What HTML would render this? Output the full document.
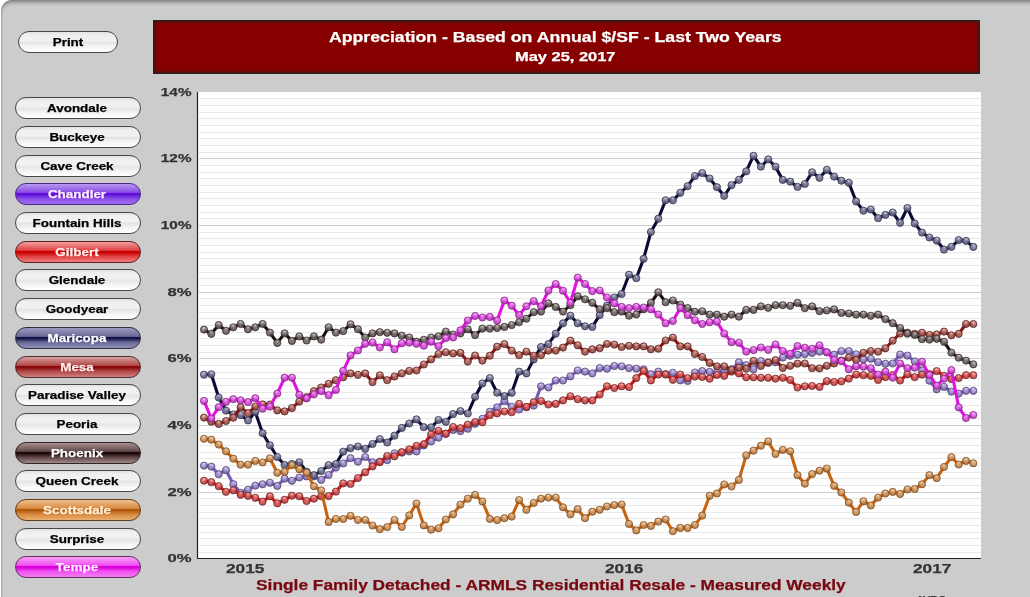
<!DOCTYPE html><html><head><meta charset="utf-8"><style>
html,body{margin:0;padding:0;width:1030px;height:597px;overflow:hidden;background:#fff;}
body{position:relative;font-family:"Liberation Sans",sans-serif;}
.panel{position:absolute;left:1px;top:0;width:1040px;height:620px;background:#cccccc;border-top-left-radius:11px;
 box-shadow:inset 0 4px 4px -2px rgba(0,0,0,.42), inset 2px 0 2px -1px rgba(0,0,0,.14);}
.btn{position:absolute;box-sizing:border-box;border:1.5px solid #555;border-radius:11px;font-weight:bold;font-size:12.5px;
 text-align:center;line-height:20px;white-space:nowrap;}
.title{position:absolute;left:153px;top:20px;width:827px;height:54px;box-sizing:border-box;background:#860000;border:1px solid #222;box-shadow:inset 0 0 3px 1px rgba(45,30,30,.9);}
.t1{position:absolute;left:0;width:100%;text-align:center;color:#fff;font-weight:bold;white-space:nowrap;}
.tx{position:absolute;font-weight:bold;line-height:1;white-space:nowrap;will-change:transform;-webkit-text-stroke:0.25px currentColor;}
.yl{position:absolute;right:839px;font-weight:bold;font-size:13px;color:#333;text-align:right;line-height:14px;}
.xl{position:absolute;font-weight:bold;font-size:13px;color:#333;line-height:14px;}
.sub{position:absolute;left:0;width:1103px;text-align:center;color:#800000;font-weight:bold;font-size:15px;white-space:nowrap;}
</style></head><body>
<div class="panel"></div>

<div class="btn" style="left:18px;top:31px;width:100px;height:22px;background:linear-gradient(to bottom,#e2e2e2 0%,#efefef 15%,#f2f2f2 44%,#e4e4e4 52%,#f6f6f6 78%,#ffffff 100%);border-color:#484848;"></div><div class="tx" style="left:-32.10px;width:200px;text-align:center;top:36.84px;font-size:11.2px;color:#000;transform-origin:100px 0;transform:scaleX(1.2)">Print</div>
<div class="btn" style="left:15px;top:97px;width:126px;height:22px;background:linear-gradient(to bottom,#e2e2e2 0%,#efefef 15%,#f2f2f2 44%,#e4e4e4 52%,#f6f6f6 78%,#ffffff 100%);border-color:#484848;"></div><div class="tx" style="left:-23.40px;width:200px;text-align:center;top:102.84px;font-size:11.2px;color:#000;transform-origin:100px 0;transform:scaleX(1.2)">Avondale</div>
<div class="btn" style="left:15px;top:126px;width:126px;height:22px;background:linear-gradient(to bottom,#e2e2e2 0%,#efefef 15%,#f2f2f2 44%,#e4e4e4 52%,#f6f6f6 78%,#ffffff 100%);border-color:#484848;"></div><div class="tx" style="left:-23.40px;width:200px;text-align:center;top:131.84px;font-size:11.2px;color:#000;transform-origin:100px 0;transform:scaleX(1.2)">Buckeye</div>
<div class="btn" style="left:15px;top:155px;width:126px;height:22px;background:linear-gradient(to bottom,#e2e2e2 0%,#efefef 15%,#f2f2f2 44%,#e4e4e4 52%,#f6f6f6 78%,#ffffff 100%);border-color:#484848;"></div><div class="tx" style="left:-23.40px;width:200px;text-align:center;top:160.84px;font-size:11.2px;color:#000;transform-origin:100px 0;transform:scaleX(1.2)">Cave Creek</div>
<div class="btn" style="left:15px;top:183px;width:126px;height:22px;background:linear-gradient(to bottom,#b89af0 0%,#8a4ae8 42%,#6010d8 47%,#6010d8 52%,#8a4ae8 72%,#a070f0 100%);border-color:#4a2a80;"></div><div class="tx" style="left:-23.40px;width:200px;text-align:center;top:188.84px;font-size:11.2px;color:#fff0ff;transform-origin:100px 0;transform:scaleX(1.2)">Chandler</div>
<div class="btn" style="left:15px;top:212px;width:126px;height:22px;background:linear-gradient(to bottom,#e2e2e2 0%,#efefef 15%,#f2f2f2 44%,#e4e4e4 52%,#f6f6f6 78%,#ffffff 100%);border-color:#484848;"></div><div class="tx" style="left:-23.40px;width:200px;text-align:center;top:217.84px;font-size:11.2px;color:#000;transform-origin:100px 0;transform:scaleX(1.2)">Fountain Hills</div>
<div class="btn" style="left:15px;top:241px;width:126px;height:22px;background:linear-gradient(to bottom,#f0a0a0 0%,#e04040 42%,#c80000 47%,#c80000 52%,#e04040 72%,#f08080 100%);border-color:#602020;"></div><div class="tx" style="left:-23.40px;width:200px;text-align:center;top:246.84px;font-size:11.2px;color:#fff0f0;transform-origin:100px 0;transform:scaleX(1.2)">Gilbert</div>
<div class="btn" style="left:15px;top:269px;width:126px;height:22px;background:linear-gradient(to bottom,#e2e2e2 0%,#efefef 15%,#f2f2f2 44%,#e4e4e4 52%,#f6f6f6 78%,#ffffff 100%);border-color:#484848;"></div><div class="tx" style="left:-23.40px;width:200px;text-align:center;top:274.84px;font-size:11.2px;color:#000;transform-origin:100px 0;transform:scaleX(1.2)">Glendale</div>
<div class="btn" style="left:15px;top:298px;width:126px;height:22px;background:linear-gradient(to bottom,#e2e2e2 0%,#efefef 15%,#f2f2f2 44%,#e4e4e4 52%,#f6f6f6 78%,#ffffff 100%);border-color:#484848;"></div><div class="tx" style="left:-23.40px;width:200px;text-align:center;top:303.84px;font-size:11.2px;color:#000;transform-origin:100px 0;transform:scaleX(1.2)">Goodyear</div>
<div class="btn" style="left:15px;top:327px;width:126px;height:22px;background:linear-gradient(to bottom,#9a9ac0 0%,#6a6a98 42%,#14144a 47%,#14144a 52%,#6a6a98 72%,#9090b8 100%);border-color:#303040;"></div><div class="tx" style="left:-23.40px;width:200px;text-align:center;top:332.84px;font-size:11.2px;color:#fff;transform-origin:100px 0;transform:scaleX(1.2)">Maricopa</div>
<div class="btn" style="left:15px;top:356px;width:126px;height:22px;background:linear-gradient(to bottom,#d8a0a0 0%,#b04848 42%,#8a0a0a 47%,#8a0a0a 52%,#b04848 72%,#d08080 100%);border-color:#503030;"></div><div class="tx" style="left:-23.40px;width:200px;text-align:center;top:361.84px;font-size:11.2px;color:#fff0f0;transform-origin:100px 0;transform:scaleX(1.2)">Mesa</div>
<div class="btn" style="left:15px;top:384px;width:126px;height:22px;background:linear-gradient(to bottom,#e2e2e2 0%,#efefef 15%,#f2f2f2 44%,#e4e4e4 52%,#f6f6f6 78%,#ffffff 100%);border-color:#484848;"></div><div class="tx" style="left:-23.40px;width:200px;text-align:center;top:389.84px;font-size:11.2px;color:#000;transform-origin:100px 0;transform:scaleX(1.2)">Paradise Valley</div>
<div class="btn" style="left:15px;top:413px;width:126px;height:22px;background:linear-gradient(to bottom,#e2e2e2 0%,#efefef 15%,#f2f2f2 44%,#e4e4e4 52%,#f6f6f6 78%,#ffffff 100%);border-color:#484848;"></div><div class="tx" style="left:-23.40px;width:200px;text-align:center;top:418.84px;font-size:11.2px;color:#000;transform-origin:100px 0;transform:scaleX(1.2)">Peoria</div>
<div class="btn" style="left:15px;top:442px;width:126px;height:22px;background:linear-gradient(to bottom,#a89090 0%,#604848 42%,#200808 47%,#200808 52%,#604848 72%,#a08888 100%);border-color:#302828;"></div><div class="tx" style="left:-23.40px;width:200px;text-align:center;top:447.84px;font-size:11.2px;color:#fff;transform-origin:100px 0;transform:scaleX(1.2)">Phoenix</div>
<div class="btn" style="left:15px;top:470px;width:126px;height:22px;background:linear-gradient(to bottom,#e2e2e2 0%,#efefef 15%,#f2f2f2 44%,#e4e4e4 52%,#f6f6f6 78%,#ffffff 100%);border-color:#484848;"></div><div class="tx" style="left:-23.40px;width:200px;text-align:center;top:475.84px;font-size:11.2px;color:#000;transform-origin:100px 0;transform:scaleX(1.2)">Queen Creek</div>
<div class="btn" style="left:15px;top:499px;width:126px;height:22px;background:linear-gradient(to bottom,#f0c090 0%,#d88a40 42%,#b05a10 47%,#b05a10 52%,#d88a40 72%,#e8b070 100%);border-color:#604020;"></div><div class="tx" style="left:-23.40px;width:200px;text-align:center;top:504.84px;font-size:11.2px;color:#fff0d8;transform-origin:100px 0;transform:scaleX(1.2)">Scottsdale</div>
<div class="btn" style="left:15px;top:528px;width:126px;height:22px;background:linear-gradient(to bottom,#e2e2e2 0%,#efefef 15%,#f2f2f2 44%,#e4e4e4 52%,#f6f6f6 78%,#ffffff 100%);border-color:#484848;"></div><div class="tx" style="left:-23.40px;width:200px;text-align:center;top:533.84px;font-size:11.2px;color:#000;transform-origin:100px 0;transform:scaleX(1.2)">Surprise</div>
<div class="btn" style="left:15px;top:556px;width:126px;height:22px;background:linear-gradient(to bottom,#f8a0f8 0%,#f050f0 42%,#d800d8 47%,#d800d8 52%,#f050f0 72%,#f080f0 100%);border-color:#603060;"></div><div class="tx" style="left:-23.40px;width:200px;text-align:center;top:561.84px;font-size:11.2px;color:#fff0ff;transform-origin:100px 0;transform:scaleX(1.2)">Tempe</div>
<div class="title"></div>
<div class="tx" style="left:328.60px;top:29.69px;font-size:14.7px;color:#fff;transform-origin:0 0;transform:scaleX(1.2040);">Appreciation - Based on Annual $/SF - Last Two Years</div>
<div class="tx" style="left:514.90px;top:50.11px;font-size:13px;color:#fff;transform-origin:0 0;transform:scaleX(1.2640);">May 25, 2017</div>
<div class="tx" style="left:0;width:191.5px;text-align:right;top:552.71px;font-size:11.5px;color:#333;transform-origin:191.5px 0;transform:scaleX(1.45)">0%</div>
<div class="tx" style="left:0;width:191.5px;text-align:right;top:486.70px;font-size:11.5px;color:#333;transform-origin:191.5px 0;transform:scaleX(1.45)">2%</div>
<div class="tx" style="left:0;width:191.5px;text-align:right;top:419.70px;font-size:11.5px;color:#333;transform-origin:191.5px 0;transform:scaleX(1.45)">4%</div>
<div class="tx" style="left:0;width:191.5px;text-align:right;top:352.70px;font-size:11.5px;color:#333;transform-origin:191.5px 0;transform:scaleX(1.45)">6%</div>
<div class="tx" style="left:0;width:191.5px;text-align:right;top:286.70px;font-size:11.5px;color:#333;transform-origin:191.5px 0;transform:scaleX(1.45)">8%</div>
<div class="tx" style="left:0;width:191.5px;text-align:right;top:219.70px;font-size:11.5px;color:#333;transform-origin:191.5px 0;transform:scaleX(1.33)">10%</div>
<div class="tx" style="left:0;width:191.5px;text-align:right;top:152.70px;font-size:11.5px;color:#333;transform-origin:191.5px 0;transform:scaleX(1.33)">12%</div>
<div class="tx" style="left:0;width:191.5px;text-align:right;top:86.70px;font-size:11.5px;color:#333;transform-origin:191.5px 0;transform:scaleX(1.33)">14%</div>
<div class="tx" style="left:226.20px;top:562.35px;font-size:13.5px;color:#333;transform-origin:0 0;transform:scaleX(1.2750);">2015</div>
<div class="tx" style="left:605.40px;top:562.35px;font-size:13.5px;color:#333;transform-origin:0 0;transform:scaleX(1.2750);">2016</div>
<div class="tx" style="left:913.00px;top:562.35px;font-size:13.5px;color:#333;transform-origin:0 0;transform:scaleX(1.2750);">2017</div>
<div class="tx" style="left:915.50px;top:594.54px;font-size:12px;color:#333;transform-origin:0 0;transform:scaleX(0.9000);">AVRG</div>
<div class="tx" style="left:256.40px;top:577.15px;font-size:15px;color:#780810;transform-origin:0 0;transform:scaleX(1.1560);">Single Family Detached - ARMLS Residential Resale - Measured Weekly</div>
<svg style="position:absolute;left:0;top:0" width="1030" height="597" viewBox="0 0 1030 597">
<rect x="197" y="92" width="784" height="466" fill="#fff"/>
<line x1="199" x2="981" y1="98.50" y2="98.50" stroke="#e8e8e8" stroke-width="1"/>
<line x1="199" x2="981" y1="105.50" y2="105.50" stroke="#e8e8e8" stroke-width="1"/>
<line x1="199" x2="981" y1="112.50" y2="112.50" stroke="#e8e8e8" stroke-width="1"/>
<line x1="199" x2="981" y1="118.50" y2="118.50" stroke="#e8e8e8" stroke-width="1"/>
<line x1="199" x2="981" y1="125.50" y2="125.50" stroke="#e8e8e8" stroke-width="1"/>
<line x1="199" x2="981" y1="132.50" y2="132.50" stroke="#e8e8e8" stroke-width="1"/>
<line x1="199" x2="981" y1="138.50" y2="138.50" stroke="#e8e8e8" stroke-width="1"/>
<line x1="199" x2="981" y1="145.50" y2="145.50" stroke="#e8e8e8" stroke-width="1"/>
<line x1="199" x2="981" y1="152.50" y2="152.50" stroke="#e8e8e8" stroke-width="1"/>
<line x1="199" x2="981" y1="158.50" y2="158.50" stroke="#cdcdcd" stroke-width="1"/>
<line x1="199" x2="981" y1="165.50" y2="165.50" stroke="#e8e8e8" stroke-width="1"/>
<line x1="199" x2="981" y1="172.50" y2="172.50" stroke="#e8e8e8" stroke-width="1"/>
<line x1="199" x2="981" y1="178.50" y2="178.50" stroke="#e8e8e8" stroke-width="1"/>
<line x1="199" x2="981" y1="185.50" y2="185.50" stroke="#e8e8e8" stroke-width="1"/>
<line x1="199" x2="981" y1="192.50" y2="192.50" stroke="#e8e8e8" stroke-width="1"/>
<line x1="199" x2="981" y1="198.50" y2="198.50" stroke="#e8e8e8" stroke-width="1"/>
<line x1="199" x2="981" y1="205.50" y2="205.50" stroke="#e8e8e8" stroke-width="1"/>
<line x1="199" x2="981" y1="212.50" y2="212.50" stroke="#e8e8e8" stroke-width="1"/>
<line x1="199" x2="981" y1="218.50" y2="218.50" stroke="#e8e8e8" stroke-width="1"/>
<line x1="199" x2="981" y1="225.50" y2="225.50" stroke="#cdcdcd" stroke-width="1"/>
<line x1="199" x2="981" y1="232.50" y2="232.50" stroke="#e8e8e8" stroke-width="1"/>
<line x1="199" x2="981" y1="238.50" y2="238.50" stroke="#e8e8e8" stroke-width="1"/>
<line x1="199" x2="981" y1="245.50" y2="245.50" stroke="#e8e8e8" stroke-width="1"/>
<line x1="199" x2="981" y1="252.50" y2="252.50" stroke="#e8e8e8" stroke-width="1"/>
<line x1="199" x2="981" y1="258.50" y2="258.50" stroke="#e8e8e8" stroke-width="1"/>
<line x1="199" x2="981" y1="265.50" y2="265.50" stroke="#e8e8e8" stroke-width="1"/>
<line x1="199" x2="981" y1="272.50" y2="272.50" stroke="#e8e8e8" stroke-width="1"/>
<line x1="199" x2="981" y1="278.50" y2="278.50" stroke="#e8e8e8" stroke-width="1"/>
<line x1="199" x2="981" y1="285.50" y2="285.50" stroke="#e8e8e8" stroke-width="1"/>
<line x1="199" x2="981" y1="292.50" y2="292.50" stroke="#cdcdcd" stroke-width="1"/>
<line x1="199" x2="981" y1="298.50" y2="298.50" stroke="#e8e8e8" stroke-width="1"/>
<line x1="199" x2="981" y1="305.50" y2="305.50" stroke="#e8e8e8" stroke-width="1"/>
<line x1="199" x2="981" y1="312.50" y2="312.50" stroke="#e8e8e8" stroke-width="1"/>
<line x1="199" x2="981" y1="318.50" y2="318.50" stroke="#e8e8e8" stroke-width="1"/>
<line x1="199" x2="981" y1="325.50" y2="325.50" stroke="#e8e8e8" stroke-width="1"/>
<line x1="199" x2="981" y1="332.50" y2="332.50" stroke="#e8e8e8" stroke-width="1"/>
<line x1="199" x2="981" y1="338.50" y2="338.50" stroke="#e8e8e8" stroke-width="1"/>
<line x1="199" x2="981" y1="345.50" y2="345.50" stroke="#e8e8e8" stroke-width="1"/>
<line x1="199" x2="981" y1="352.50" y2="352.50" stroke="#e8e8e8" stroke-width="1"/>
<line x1="199" x2="981" y1="358.50" y2="358.50" stroke="#cdcdcd" stroke-width="1"/>
<line x1="199" x2="981" y1="365.50" y2="365.50" stroke="#e8e8e8" stroke-width="1"/>
<line x1="199" x2="981" y1="372.50" y2="372.50" stroke="#e8e8e8" stroke-width="1"/>
<line x1="199" x2="981" y1="378.50" y2="378.50" stroke="#e8e8e8" stroke-width="1"/>
<line x1="199" x2="981" y1="385.50" y2="385.50" stroke="#e8e8e8" stroke-width="1"/>
<line x1="199" x2="981" y1="392.50" y2="392.50" stroke="#e8e8e8" stroke-width="1"/>
<line x1="199" x2="981" y1="398.50" y2="398.50" stroke="#e8e8e8" stroke-width="1"/>
<line x1="199" x2="981" y1="405.50" y2="405.50" stroke="#e8e8e8" stroke-width="1"/>
<line x1="199" x2="981" y1="412.50" y2="412.50" stroke="#e8e8e8" stroke-width="1"/>
<line x1="199" x2="981" y1="418.50" y2="418.50" stroke="#e8e8e8" stroke-width="1"/>
<line x1="199" x2="981" y1="425.50" y2="425.50" stroke="#cdcdcd" stroke-width="1"/>
<line x1="199" x2="981" y1="432.50" y2="432.50" stroke="#e8e8e8" stroke-width="1"/>
<line x1="199" x2="981" y1="438.50" y2="438.50" stroke="#e8e8e8" stroke-width="1"/>
<line x1="199" x2="981" y1="445.50" y2="445.50" stroke="#e8e8e8" stroke-width="1"/>
<line x1="199" x2="981" y1="452.50" y2="452.50" stroke="#e8e8e8" stroke-width="1"/>
<line x1="199" x2="981" y1="458.50" y2="458.50" stroke="#e8e8e8" stroke-width="1"/>
<line x1="199" x2="981" y1="465.50" y2="465.50" stroke="#e8e8e8" stroke-width="1"/>
<line x1="199" x2="981" y1="472.50" y2="472.50" stroke="#e8e8e8" stroke-width="1"/>
<line x1="199" x2="981" y1="478.50" y2="478.50" stroke="#e8e8e8" stroke-width="1"/>
<line x1="199" x2="981" y1="485.50" y2="485.50" stroke="#e8e8e8" stroke-width="1"/>
<line x1="199" x2="981" y1="492.50" y2="492.50" stroke="#cdcdcd" stroke-width="1"/>
<line x1="199" x2="981" y1="498.50" y2="498.50" stroke="#e8e8e8" stroke-width="1"/>
<line x1="199" x2="981" y1="505.50" y2="505.50" stroke="#e8e8e8" stroke-width="1"/>
<line x1="199" x2="981" y1="512.50" y2="512.50" stroke="#e8e8e8" stroke-width="1"/>
<line x1="199" x2="981" y1="518.50" y2="518.50" stroke="#e8e8e8" stroke-width="1"/>
<line x1="199" x2="981" y1="525.50" y2="525.50" stroke="#e8e8e8" stroke-width="1"/>
<line x1="199" x2="981" y1="532.50" y2="532.50" stroke="#e8e8e8" stroke-width="1"/>
<line x1="199" x2="981" y1="538.50" y2="538.50" stroke="#e8e8e8" stroke-width="1"/>
<line x1="199" x2="981" y1="545.50" y2="545.50" stroke="#e8e8e8" stroke-width="1"/>
<line x1="199" x2="981" y1="552.50" y2="552.50" stroke="#e8e8e8" stroke-width="1"/>
<line x1="197.5" x2="197.5" y1="92" y2="559" stroke="#222" stroke-width="1.2"/>
<line x1="197" x2="981" y1="558.5" y2="558.5" stroke="#222" stroke-width="1.2"/>
<defs><radialGradient id="g_chandler" cx="50%" cy="45%" r="55%" fx="50%" fy="25%"><stop offset="0%" stop-color="#d8ccf0"/><stop offset="55%" stop-color="#a090d0"/><stop offset="100%" stop-color="#5a4a80"/></radialGradient><radialGradient id="g_gilbert" cx="50%" cy="45%" r="55%" fx="50%" fy="25%"><stop offset="0%" stop-color="#f4b0b0"/><stop offset="55%" stop-color="#d85858"/><stop offset="100%" stop-color="#802828"/></radialGradient><radialGradient id="g_maricopa" cx="50%" cy="45%" r="55%" fx="50%" fy="25%"><stop offset="0%" stop-color="#d0d0e0"/><stop offset="55%" stop-color="#7c7c9c"/><stop offset="100%" stop-color="#3c3c58"/></radialGradient><radialGradient id="g_mesa" cx="50%" cy="45%" r="55%" fx="50%" fy="25%"><stop offset="0%" stop-color="#e8bcb4"/><stop offset="55%" stop-color="#b0645e"/><stop offset="100%" stop-color="#662a26"/></radialGradient><radialGradient id="g_phoenix" cx="50%" cy="45%" r="55%" fx="50%" fy="25%"><stop offset="0%" stop-color="#d0c8c8"/><stop offset="55%" stop-color="#807474"/><stop offset="100%" stop-color="#3c3434"/></radialGradient><radialGradient id="g_scottsdale" cx="50%" cy="45%" r="55%" fx="50%" fy="25%"><stop offset="0%" stop-color="#f0d4b0"/><stop offset="55%" stop-color="#d09a64"/><stop offset="100%" stop-color="#8a5424"/></radialGradient><radialGradient id="g_tempe" cx="50%" cy="45%" r="55%" fx="50%" fy="25%"><stop offset="0%" stop-color="#f4b8f4"/><stop offset="55%" stop-color="#dc58e0"/><stop offset="100%" stop-color="#902890"/></radialGradient></defs>
<polyline points="204.0,465.6 211.3,466.6 218.7,474.2 226.0,470.2 233.3,484.2 240.6,492.8 248.0,489.8 255.3,485.7 262.6,484.3 269.9,482.8 277.3,485.9 284.6,478.7 291.9,480.8 299.3,477.5 306.6,476.4 313.9,476.4 321.2,479.9 328.6,475.0 335.9,467.6 343.2,463.5 350.5,458.2 357.9,461.7 365.2,457.0 372.5,462.3 379.8,461.6 387.2,460.2 394.5,453.4 401.8,452.7 409.2,451.4 416.5,451.5 423.8,445.4 431.1,441.5 438.5,437.6 445.8,433.8 453.1,429.9 460.4,431.1 467.8,428.7 475.1,423.8 482.4,418.8 489.8,411.7 497.1,407.4 504.4,401.0 511.7,406.8 519.1,409.5 526.4,407.2 533.7,405.6 541.0,386.3 548.4,387.5 555.7,380.5 563.0,380.5 570.4,376.4 577.7,370.5 585.0,371.6 592.3,373.4 599.7,368.1 607.0,368.7 614.3,366.0 621.6,366.3 629.0,368.1 636.3,368.7 643.6,369.3 650.9,374.2 658.3,371.6 665.6,374.0 672.9,372.8 680.3,380.4 687.6,381.0 694.9,372.5 702.2,371.1 709.6,371.9 716.9,372.8 724.2,370.5 731.5,369.3 738.9,362.3 746.2,365.2 753.5,369.3 760.9,361.1 768.2,362.9 775.5,362.3 782.8,357.6 790.2,355.8 797.5,354.7 804.8,354.1 812.1,352.9 819.5,351.7 826.8,352.3 834.1,354.7 841.4,351.1 848.8,351.1 856.1,354.3 863.4,359.4 870.8,358.8 878.1,362.3 885.4,363.8 892.7,363.5 900.1,354.5 907.4,355.6 914.7,361.4 922.0,370.5 929.4,380.7 936.7,389.3 944.0,386.9 951.4,391.6 958.7,393.6 966.0,390.8 973.3,390.8" fill="none" stroke="#7a58bc" stroke-width="3.1" stroke-linejoin="round"/>
<circle cx="204.0" cy="465.6" r="3.6" fill="url(#g_chandler)" fill-opacity="0.85" stroke="#5a4a80" stroke-width="0.8"/>
<circle cx="211.3" cy="466.6" r="3.6" fill="url(#g_chandler)" fill-opacity="0.85" stroke="#5a4a80" stroke-width="0.8"/>
<circle cx="218.7" cy="474.2" r="3.6" fill="url(#g_chandler)" fill-opacity="0.85" stroke="#5a4a80" stroke-width="0.8"/>
<circle cx="226.0" cy="470.2" r="3.6" fill="url(#g_chandler)" fill-opacity="0.85" stroke="#5a4a80" stroke-width="0.8"/>
<circle cx="233.3" cy="484.2" r="3.6" fill="url(#g_chandler)" fill-opacity="0.85" stroke="#5a4a80" stroke-width="0.8"/>
<circle cx="240.6" cy="492.8" r="3.6" fill="url(#g_chandler)" fill-opacity="0.85" stroke="#5a4a80" stroke-width="0.8"/>
<circle cx="248.0" cy="489.8" r="3.6" fill="url(#g_chandler)" fill-opacity="0.85" stroke="#5a4a80" stroke-width="0.8"/>
<circle cx="255.3" cy="485.7" r="3.6" fill="url(#g_chandler)" fill-opacity="0.85" stroke="#5a4a80" stroke-width="0.8"/>
<circle cx="262.6" cy="484.3" r="3.6" fill="url(#g_chandler)" fill-opacity="0.85" stroke="#5a4a80" stroke-width="0.8"/>
<circle cx="269.9" cy="482.8" r="3.6" fill="url(#g_chandler)" fill-opacity="0.85" stroke="#5a4a80" stroke-width="0.8"/>
<circle cx="277.3" cy="485.9" r="3.6" fill="url(#g_chandler)" fill-opacity="0.85" stroke="#5a4a80" stroke-width="0.8"/>
<circle cx="284.6" cy="478.7" r="3.6" fill="url(#g_chandler)" fill-opacity="0.85" stroke="#5a4a80" stroke-width="0.8"/>
<circle cx="291.9" cy="480.8" r="3.6" fill="url(#g_chandler)" fill-opacity="0.85" stroke="#5a4a80" stroke-width="0.8"/>
<circle cx="299.3" cy="477.5" r="3.6" fill="url(#g_chandler)" fill-opacity="0.85" stroke="#5a4a80" stroke-width="0.8"/>
<circle cx="306.6" cy="476.4" r="3.6" fill="url(#g_chandler)" fill-opacity="0.85" stroke="#5a4a80" stroke-width="0.8"/>
<circle cx="313.9" cy="476.4" r="3.6" fill="url(#g_chandler)" fill-opacity="0.85" stroke="#5a4a80" stroke-width="0.8"/>
<circle cx="321.2" cy="479.9" r="3.6" fill="url(#g_chandler)" fill-opacity="0.85" stroke="#5a4a80" stroke-width="0.8"/>
<circle cx="328.6" cy="475.0" r="3.6" fill="url(#g_chandler)" fill-opacity="0.85" stroke="#5a4a80" stroke-width="0.8"/>
<circle cx="335.9" cy="467.6" r="3.6" fill="url(#g_chandler)" fill-opacity="0.85" stroke="#5a4a80" stroke-width="0.8"/>
<circle cx="343.2" cy="463.5" r="3.6" fill="url(#g_chandler)" fill-opacity="0.85" stroke="#5a4a80" stroke-width="0.8"/>
<circle cx="350.5" cy="458.2" r="3.6" fill="url(#g_chandler)" fill-opacity="0.85" stroke="#5a4a80" stroke-width="0.8"/>
<circle cx="357.9" cy="461.7" r="3.6" fill="url(#g_chandler)" fill-opacity="0.85" stroke="#5a4a80" stroke-width="0.8"/>
<circle cx="365.2" cy="457.0" r="3.6" fill="url(#g_chandler)" fill-opacity="0.85" stroke="#5a4a80" stroke-width="0.8"/>
<circle cx="372.5" cy="462.3" r="3.6" fill="url(#g_chandler)" fill-opacity="0.85" stroke="#5a4a80" stroke-width="0.8"/>
<circle cx="379.8" cy="461.6" r="3.6" fill="url(#g_chandler)" fill-opacity="0.85" stroke="#5a4a80" stroke-width="0.8"/>
<circle cx="387.2" cy="460.2" r="3.6" fill="url(#g_chandler)" fill-opacity="0.85" stroke="#5a4a80" stroke-width="0.8"/>
<circle cx="394.5" cy="453.4" r="3.6" fill="url(#g_chandler)" fill-opacity="0.85" stroke="#5a4a80" stroke-width="0.8"/>
<circle cx="401.8" cy="452.7" r="3.6" fill="url(#g_chandler)" fill-opacity="0.85" stroke="#5a4a80" stroke-width="0.8"/>
<circle cx="409.2" cy="451.4" r="3.6" fill="url(#g_chandler)" fill-opacity="0.85" stroke="#5a4a80" stroke-width="0.8"/>
<circle cx="416.5" cy="451.5" r="3.6" fill="url(#g_chandler)" fill-opacity="0.85" stroke="#5a4a80" stroke-width="0.8"/>
<circle cx="423.8" cy="445.4" r="3.6" fill="url(#g_chandler)" fill-opacity="0.85" stroke="#5a4a80" stroke-width="0.8"/>
<circle cx="431.1" cy="441.5" r="3.6" fill="url(#g_chandler)" fill-opacity="0.85" stroke="#5a4a80" stroke-width="0.8"/>
<circle cx="438.5" cy="437.6" r="3.6" fill="url(#g_chandler)" fill-opacity="0.85" stroke="#5a4a80" stroke-width="0.8"/>
<circle cx="445.8" cy="433.8" r="3.6" fill="url(#g_chandler)" fill-opacity="0.85" stroke="#5a4a80" stroke-width="0.8"/>
<circle cx="453.1" cy="429.9" r="3.6" fill="url(#g_chandler)" fill-opacity="0.85" stroke="#5a4a80" stroke-width="0.8"/>
<circle cx="460.4" cy="431.1" r="3.6" fill="url(#g_chandler)" fill-opacity="0.85" stroke="#5a4a80" stroke-width="0.8"/>
<circle cx="467.8" cy="428.7" r="3.6" fill="url(#g_chandler)" fill-opacity="0.85" stroke="#5a4a80" stroke-width="0.8"/>
<circle cx="475.1" cy="423.8" r="3.6" fill="url(#g_chandler)" fill-opacity="0.85" stroke="#5a4a80" stroke-width="0.8"/>
<circle cx="482.4" cy="418.8" r="3.6" fill="url(#g_chandler)" fill-opacity="0.85" stroke="#5a4a80" stroke-width="0.8"/>
<circle cx="489.8" cy="411.7" r="3.6" fill="url(#g_chandler)" fill-opacity="0.85" stroke="#5a4a80" stroke-width="0.8"/>
<circle cx="497.1" cy="407.4" r="3.6" fill="url(#g_chandler)" fill-opacity="0.85" stroke="#5a4a80" stroke-width="0.8"/>
<circle cx="504.4" cy="401.0" r="3.6" fill="url(#g_chandler)" fill-opacity="0.85" stroke="#5a4a80" stroke-width="0.8"/>
<circle cx="511.7" cy="406.8" r="3.6" fill="url(#g_chandler)" fill-opacity="0.85" stroke="#5a4a80" stroke-width="0.8"/>
<circle cx="519.1" cy="409.5" r="3.6" fill="url(#g_chandler)" fill-opacity="0.85" stroke="#5a4a80" stroke-width="0.8"/>
<circle cx="526.4" cy="407.2" r="3.6" fill="url(#g_chandler)" fill-opacity="0.85" stroke="#5a4a80" stroke-width="0.8"/>
<circle cx="533.7" cy="405.6" r="3.6" fill="url(#g_chandler)" fill-opacity="0.85" stroke="#5a4a80" stroke-width="0.8"/>
<circle cx="541.0" cy="386.3" r="3.6" fill="url(#g_chandler)" fill-opacity="0.85" stroke="#5a4a80" stroke-width="0.8"/>
<circle cx="548.4" cy="387.5" r="3.6" fill="url(#g_chandler)" fill-opacity="0.85" stroke="#5a4a80" stroke-width="0.8"/>
<circle cx="555.7" cy="380.5" r="3.6" fill="url(#g_chandler)" fill-opacity="0.85" stroke="#5a4a80" stroke-width="0.8"/>
<circle cx="563.0" cy="380.5" r="3.6" fill="url(#g_chandler)" fill-opacity="0.85" stroke="#5a4a80" stroke-width="0.8"/>
<circle cx="570.4" cy="376.4" r="3.6" fill="url(#g_chandler)" fill-opacity="0.85" stroke="#5a4a80" stroke-width="0.8"/>
<circle cx="577.7" cy="370.5" r="3.6" fill="url(#g_chandler)" fill-opacity="0.85" stroke="#5a4a80" stroke-width="0.8"/>
<circle cx="585.0" cy="371.6" r="3.6" fill="url(#g_chandler)" fill-opacity="0.85" stroke="#5a4a80" stroke-width="0.8"/>
<circle cx="592.3" cy="373.4" r="3.6" fill="url(#g_chandler)" fill-opacity="0.85" stroke="#5a4a80" stroke-width="0.8"/>
<circle cx="599.7" cy="368.1" r="3.6" fill="url(#g_chandler)" fill-opacity="0.85" stroke="#5a4a80" stroke-width="0.8"/>
<circle cx="607.0" cy="368.7" r="3.6" fill="url(#g_chandler)" fill-opacity="0.85" stroke="#5a4a80" stroke-width="0.8"/>
<circle cx="614.3" cy="366.0" r="3.6" fill="url(#g_chandler)" fill-opacity="0.85" stroke="#5a4a80" stroke-width="0.8"/>
<circle cx="621.6" cy="366.3" r="3.6" fill="url(#g_chandler)" fill-opacity="0.85" stroke="#5a4a80" stroke-width="0.8"/>
<circle cx="629.0" cy="368.1" r="3.6" fill="url(#g_chandler)" fill-opacity="0.85" stroke="#5a4a80" stroke-width="0.8"/>
<circle cx="636.3" cy="368.7" r="3.6" fill="url(#g_chandler)" fill-opacity="0.85" stroke="#5a4a80" stroke-width="0.8"/>
<circle cx="643.6" cy="369.3" r="3.6" fill="url(#g_chandler)" fill-opacity="0.85" stroke="#5a4a80" stroke-width="0.8"/>
<circle cx="650.9" cy="374.2" r="3.6" fill="url(#g_chandler)" fill-opacity="0.85" stroke="#5a4a80" stroke-width="0.8"/>
<circle cx="658.3" cy="371.6" r="3.6" fill="url(#g_chandler)" fill-opacity="0.85" stroke="#5a4a80" stroke-width="0.8"/>
<circle cx="665.6" cy="374.0" r="3.6" fill="url(#g_chandler)" fill-opacity="0.85" stroke="#5a4a80" stroke-width="0.8"/>
<circle cx="672.9" cy="372.8" r="3.6" fill="url(#g_chandler)" fill-opacity="0.85" stroke="#5a4a80" stroke-width="0.8"/>
<circle cx="680.3" cy="380.4" r="3.6" fill="url(#g_chandler)" fill-opacity="0.85" stroke="#5a4a80" stroke-width="0.8"/>
<circle cx="687.6" cy="381.0" r="3.6" fill="url(#g_chandler)" fill-opacity="0.85" stroke="#5a4a80" stroke-width="0.8"/>
<circle cx="694.9" cy="372.5" r="3.6" fill="url(#g_chandler)" fill-opacity="0.85" stroke="#5a4a80" stroke-width="0.8"/>
<circle cx="702.2" cy="371.1" r="3.6" fill="url(#g_chandler)" fill-opacity="0.85" stroke="#5a4a80" stroke-width="0.8"/>
<circle cx="709.6" cy="371.9" r="3.6" fill="url(#g_chandler)" fill-opacity="0.85" stroke="#5a4a80" stroke-width="0.8"/>
<circle cx="716.9" cy="372.8" r="3.6" fill="url(#g_chandler)" fill-opacity="0.85" stroke="#5a4a80" stroke-width="0.8"/>
<circle cx="724.2" cy="370.5" r="3.6" fill="url(#g_chandler)" fill-opacity="0.85" stroke="#5a4a80" stroke-width="0.8"/>
<circle cx="731.5" cy="369.3" r="3.6" fill="url(#g_chandler)" fill-opacity="0.85" stroke="#5a4a80" stroke-width="0.8"/>
<circle cx="738.9" cy="362.3" r="3.6" fill="url(#g_chandler)" fill-opacity="0.85" stroke="#5a4a80" stroke-width="0.8"/>
<circle cx="746.2" cy="365.2" r="3.6" fill="url(#g_chandler)" fill-opacity="0.85" stroke="#5a4a80" stroke-width="0.8"/>
<circle cx="753.5" cy="369.3" r="3.6" fill="url(#g_chandler)" fill-opacity="0.85" stroke="#5a4a80" stroke-width="0.8"/>
<circle cx="760.9" cy="361.1" r="3.6" fill="url(#g_chandler)" fill-opacity="0.85" stroke="#5a4a80" stroke-width="0.8"/>
<circle cx="768.2" cy="362.9" r="3.6" fill="url(#g_chandler)" fill-opacity="0.85" stroke="#5a4a80" stroke-width="0.8"/>
<circle cx="775.5" cy="362.3" r="3.6" fill="url(#g_chandler)" fill-opacity="0.85" stroke="#5a4a80" stroke-width="0.8"/>
<circle cx="782.8" cy="357.6" r="3.6" fill="url(#g_chandler)" fill-opacity="0.85" stroke="#5a4a80" stroke-width="0.8"/>
<circle cx="790.2" cy="355.8" r="3.6" fill="url(#g_chandler)" fill-opacity="0.85" stroke="#5a4a80" stroke-width="0.8"/>
<circle cx="797.5" cy="354.7" r="3.6" fill="url(#g_chandler)" fill-opacity="0.85" stroke="#5a4a80" stroke-width="0.8"/>
<circle cx="804.8" cy="354.1" r="3.6" fill="url(#g_chandler)" fill-opacity="0.85" stroke="#5a4a80" stroke-width="0.8"/>
<circle cx="812.1" cy="352.9" r="3.6" fill="url(#g_chandler)" fill-opacity="0.85" stroke="#5a4a80" stroke-width="0.8"/>
<circle cx="819.5" cy="351.7" r="3.6" fill="url(#g_chandler)" fill-opacity="0.85" stroke="#5a4a80" stroke-width="0.8"/>
<circle cx="826.8" cy="352.3" r="3.6" fill="url(#g_chandler)" fill-opacity="0.85" stroke="#5a4a80" stroke-width="0.8"/>
<circle cx="834.1" cy="354.7" r="3.6" fill="url(#g_chandler)" fill-opacity="0.85" stroke="#5a4a80" stroke-width="0.8"/>
<circle cx="841.4" cy="351.1" r="3.6" fill="url(#g_chandler)" fill-opacity="0.85" stroke="#5a4a80" stroke-width="0.8"/>
<circle cx="848.8" cy="351.1" r="3.6" fill="url(#g_chandler)" fill-opacity="0.85" stroke="#5a4a80" stroke-width="0.8"/>
<circle cx="856.1" cy="354.3" r="3.6" fill="url(#g_chandler)" fill-opacity="0.85" stroke="#5a4a80" stroke-width="0.8"/>
<circle cx="863.4" cy="359.4" r="3.6" fill="url(#g_chandler)" fill-opacity="0.85" stroke="#5a4a80" stroke-width="0.8"/>
<circle cx="870.8" cy="358.8" r="3.6" fill="url(#g_chandler)" fill-opacity="0.85" stroke="#5a4a80" stroke-width="0.8"/>
<circle cx="878.1" cy="362.3" r="3.6" fill="url(#g_chandler)" fill-opacity="0.85" stroke="#5a4a80" stroke-width="0.8"/>
<circle cx="885.4" cy="363.8" r="3.6" fill="url(#g_chandler)" fill-opacity="0.85" stroke="#5a4a80" stroke-width="0.8"/>
<circle cx="892.7" cy="363.5" r="3.6" fill="url(#g_chandler)" fill-opacity="0.85" stroke="#5a4a80" stroke-width="0.8"/>
<circle cx="900.1" cy="354.5" r="3.6" fill="url(#g_chandler)" fill-opacity="0.85" stroke="#5a4a80" stroke-width="0.8"/>
<circle cx="907.4" cy="355.6" r="3.6" fill="url(#g_chandler)" fill-opacity="0.85" stroke="#5a4a80" stroke-width="0.8"/>
<circle cx="914.7" cy="361.4" r="3.6" fill="url(#g_chandler)" fill-opacity="0.85" stroke="#5a4a80" stroke-width="0.8"/>
<circle cx="922.0" cy="370.5" r="3.6" fill="url(#g_chandler)" fill-opacity="0.85" stroke="#5a4a80" stroke-width="0.8"/>
<circle cx="929.4" cy="380.7" r="3.6" fill="url(#g_chandler)" fill-opacity="0.85" stroke="#5a4a80" stroke-width="0.8"/>
<circle cx="936.7" cy="389.3" r="3.6" fill="url(#g_chandler)" fill-opacity="0.85" stroke="#5a4a80" stroke-width="0.8"/>
<circle cx="944.0" cy="386.9" r="3.6" fill="url(#g_chandler)" fill-opacity="0.85" stroke="#5a4a80" stroke-width="0.8"/>
<circle cx="951.4" cy="391.6" r="3.6" fill="url(#g_chandler)" fill-opacity="0.85" stroke="#5a4a80" stroke-width="0.8"/>
<circle cx="958.7" cy="393.6" r="3.6" fill="url(#g_chandler)" fill-opacity="0.85" stroke="#5a4a80" stroke-width="0.8"/>
<circle cx="966.0" cy="390.8" r="3.6" fill="url(#g_chandler)" fill-opacity="0.85" stroke="#5a4a80" stroke-width="0.8"/>
<circle cx="973.3" cy="390.8" r="3.6" fill="url(#g_chandler)" fill-opacity="0.85" stroke="#5a4a80" stroke-width="0.8"/>
<polyline points="204.0,480.7 211.3,482.2 218.7,486.2 226.0,491.8 233.3,490.3 240.6,494.8 248.0,495.8 255.3,497.8 262.6,501.6 269.9,496.3 277.3,503.3 284.6,499.8 291.9,495.7 299.3,496.3 306.6,501.0 313.9,498.7 321.2,496.3 328.6,496.1 335.9,491.6 343.2,483.4 350.5,484.0 357.9,478.1 365.2,472.3 372.5,466.4 379.8,462.2 387.2,456.0 394.5,456.3 401.8,452.1 409.2,449.4 416.5,445.9 423.8,444.2 431.1,434.5 438.5,430.8 445.8,433.7 453.1,427.0 460.4,428.2 467.8,424.6 475.1,422.1 482.4,422.3 489.8,415.2 497.1,413.4 504.4,411.5 511.7,412.2 519.1,403.9 526.4,406.9 533.7,402.2 541.0,401.0 548.4,404.5 555.7,403.9 563.0,400.4 570.4,396.3 577.7,399.2 585.0,400.4 592.3,400.4 599.7,394.5 607.0,386.3 614.3,388.0 621.6,386.3 629.0,387.1 636.3,378.1 643.6,371.0 650.9,380.4 658.3,374.5 665.6,374.5 672.9,379.8 680.3,374.5 687.6,378.1 694.9,376.6 702.2,377.0 709.6,378.7 716.9,375.0 724.2,375.8 731.5,371.7 738.9,373.4 746.2,377.3 753.5,377.3 760.9,377.8 768.2,377.8 775.5,378.7 782.8,377.8 790.2,379.9 797.5,387.5 804.8,386.3 812.1,386.0 819.5,386.9 826.8,381.1 834.1,382.0 841.4,381.3 848.8,378.7 856.1,374.6 863.4,375.2 870.8,375.8 878.1,379.9 885.4,377.1 892.7,375.1 900.1,380.5 907.4,374.3 914.7,377.2 922.0,374.6 929.4,374.0 936.7,371.1 944.0,375.8 951.4,379.1 958.7,378.1 966.0,375.2 973.3,375.2" fill="none" stroke="#d01414" stroke-width="3.1" stroke-linejoin="round"/>
<circle cx="204.0" cy="480.7" r="3.6" fill="url(#g_gilbert)" fill-opacity="0.85" stroke="#802828" stroke-width="0.8"/>
<circle cx="211.3" cy="482.2" r="3.6" fill="url(#g_gilbert)" fill-opacity="0.85" stroke="#802828" stroke-width="0.8"/>
<circle cx="218.7" cy="486.2" r="3.6" fill="url(#g_gilbert)" fill-opacity="0.85" stroke="#802828" stroke-width="0.8"/>
<circle cx="226.0" cy="491.8" r="3.6" fill="url(#g_gilbert)" fill-opacity="0.85" stroke="#802828" stroke-width="0.8"/>
<circle cx="233.3" cy="490.3" r="3.6" fill="url(#g_gilbert)" fill-opacity="0.85" stroke="#802828" stroke-width="0.8"/>
<circle cx="240.6" cy="494.8" r="3.6" fill="url(#g_gilbert)" fill-opacity="0.85" stroke="#802828" stroke-width="0.8"/>
<circle cx="248.0" cy="495.8" r="3.6" fill="url(#g_gilbert)" fill-opacity="0.85" stroke="#802828" stroke-width="0.8"/>
<circle cx="255.3" cy="497.8" r="3.6" fill="url(#g_gilbert)" fill-opacity="0.85" stroke="#802828" stroke-width="0.8"/>
<circle cx="262.6" cy="501.6" r="3.6" fill="url(#g_gilbert)" fill-opacity="0.85" stroke="#802828" stroke-width="0.8"/>
<circle cx="269.9" cy="496.3" r="3.6" fill="url(#g_gilbert)" fill-opacity="0.85" stroke="#802828" stroke-width="0.8"/>
<circle cx="277.3" cy="503.3" r="3.6" fill="url(#g_gilbert)" fill-opacity="0.85" stroke="#802828" stroke-width="0.8"/>
<circle cx="284.6" cy="499.8" r="3.6" fill="url(#g_gilbert)" fill-opacity="0.85" stroke="#802828" stroke-width="0.8"/>
<circle cx="291.9" cy="495.7" r="3.6" fill="url(#g_gilbert)" fill-opacity="0.85" stroke="#802828" stroke-width="0.8"/>
<circle cx="299.3" cy="496.3" r="3.6" fill="url(#g_gilbert)" fill-opacity="0.85" stroke="#802828" stroke-width="0.8"/>
<circle cx="306.6" cy="501.0" r="3.6" fill="url(#g_gilbert)" fill-opacity="0.85" stroke="#802828" stroke-width="0.8"/>
<circle cx="313.9" cy="498.7" r="3.6" fill="url(#g_gilbert)" fill-opacity="0.85" stroke="#802828" stroke-width="0.8"/>
<circle cx="321.2" cy="496.3" r="3.6" fill="url(#g_gilbert)" fill-opacity="0.85" stroke="#802828" stroke-width="0.8"/>
<circle cx="328.6" cy="496.1" r="3.6" fill="url(#g_gilbert)" fill-opacity="0.85" stroke="#802828" stroke-width="0.8"/>
<circle cx="335.9" cy="491.6" r="3.6" fill="url(#g_gilbert)" fill-opacity="0.85" stroke="#802828" stroke-width="0.8"/>
<circle cx="343.2" cy="483.4" r="3.6" fill="url(#g_gilbert)" fill-opacity="0.85" stroke="#802828" stroke-width="0.8"/>
<circle cx="350.5" cy="484.0" r="3.6" fill="url(#g_gilbert)" fill-opacity="0.85" stroke="#802828" stroke-width="0.8"/>
<circle cx="357.9" cy="478.1" r="3.6" fill="url(#g_gilbert)" fill-opacity="0.85" stroke="#802828" stroke-width="0.8"/>
<circle cx="365.2" cy="472.3" r="3.6" fill="url(#g_gilbert)" fill-opacity="0.85" stroke="#802828" stroke-width="0.8"/>
<circle cx="372.5" cy="466.4" r="3.6" fill="url(#g_gilbert)" fill-opacity="0.85" stroke="#802828" stroke-width="0.8"/>
<circle cx="379.8" cy="462.2" r="3.6" fill="url(#g_gilbert)" fill-opacity="0.85" stroke="#802828" stroke-width="0.8"/>
<circle cx="387.2" cy="456.0" r="3.6" fill="url(#g_gilbert)" fill-opacity="0.85" stroke="#802828" stroke-width="0.8"/>
<circle cx="394.5" cy="456.3" r="3.6" fill="url(#g_gilbert)" fill-opacity="0.85" stroke="#802828" stroke-width="0.8"/>
<circle cx="401.8" cy="452.1" r="3.6" fill="url(#g_gilbert)" fill-opacity="0.85" stroke="#802828" stroke-width="0.8"/>
<circle cx="409.2" cy="449.4" r="3.6" fill="url(#g_gilbert)" fill-opacity="0.85" stroke="#802828" stroke-width="0.8"/>
<circle cx="416.5" cy="445.9" r="3.6" fill="url(#g_gilbert)" fill-opacity="0.85" stroke="#802828" stroke-width="0.8"/>
<circle cx="423.8" cy="444.2" r="3.6" fill="url(#g_gilbert)" fill-opacity="0.85" stroke="#802828" stroke-width="0.8"/>
<circle cx="431.1" cy="434.5" r="3.6" fill="url(#g_gilbert)" fill-opacity="0.85" stroke="#802828" stroke-width="0.8"/>
<circle cx="438.5" cy="430.8" r="3.6" fill="url(#g_gilbert)" fill-opacity="0.85" stroke="#802828" stroke-width="0.8"/>
<circle cx="445.8" cy="433.7" r="3.6" fill="url(#g_gilbert)" fill-opacity="0.85" stroke="#802828" stroke-width="0.8"/>
<circle cx="453.1" cy="427.0" r="3.6" fill="url(#g_gilbert)" fill-opacity="0.85" stroke="#802828" stroke-width="0.8"/>
<circle cx="460.4" cy="428.2" r="3.6" fill="url(#g_gilbert)" fill-opacity="0.85" stroke="#802828" stroke-width="0.8"/>
<circle cx="467.8" cy="424.6" r="3.6" fill="url(#g_gilbert)" fill-opacity="0.85" stroke="#802828" stroke-width="0.8"/>
<circle cx="475.1" cy="422.1" r="3.6" fill="url(#g_gilbert)" fill-opacity="0.85" stroke="#802828" stroke-width="0.8"/>
<circle cx="482.4" cy="422.3" r="3.6" fill="url(#g_gilbert)" fill-opacity="0.85" stroke="#802828" stroke-width="0.8"/>
<circle cx="489.8" cy="415.2" r="3.6" fill="url(#g_gilbert)" fill-opacity="0.85" stroke="#802828" stroke-width="0.8"/>
<circle cx="497.1" cy="413.4" r="3.6" fill="url(#g_gilbert)" fill-opacity="0.85" stroke="#802828" stroke-width="0.8"/>
<circle cx="504.4" cy="411.5" r="3.6" fill="url(#g_gilbert)" fill-opacity="0.85" stroke="#802828" stroke-width="0.8"/>
<circle cx="511.7" cy="412.2" r="3.6" fill="url(#g_gilbert)" fill-opacity="0.85" stroke="#802828" stroke-width="0.8"/>
<circle cx="519.1" cy="403.9" r="3.6" fill="url(#g_gilbert)" fill-opacity="0.85" stroke="#802828" stroke-width="0.8"/>
<circle cx="526.4" cy="406.9" r="3.6" fill="url(#g_gilbert)" fill-opacity="0.85" stroke="#802828" stroke-width="0.8"/>
<circle cx="533.7" cy="402.2" r="3.6" fill="url(#g_gilbert)" fill-opacity="0.85" stroke="#802828" stroke-width="0.8"/>
<circle cx="541.0" cy="401.0" r="3.6" fill="url(#g_gilbert)" fill-opacity="0.85" stroke="#802828" stroke-width="0.8"/>
<circle cx="548.4" cy="404.5" r="3.6" fill="url(#g_gilbert)" fill-opacity="0.85" stroke="#802828" stroke-width="0.8"/>
<circle cx="555.7" cy="403.9" r="3.6" fill="url(#g_gilbert)" fill-opacity="0.85" stroke="#802828" stroke-width="0.8"/>
<circle cx="563.0" cy="400.4" r="3.6" fill="url(#g_gilbert)" fill-opacity="0.85" stroke="#802828" stroke-width="0.8"/>
<circle cx="570.4" cy="396.3" r="3.6" fill="url(#g_gilbert)" fill-opacity="0.85" stroke="#802828" stroke-width="0.8"/>
<circle cx="577.7" cy="399.2" r="3.6" fill="url(#g_gilbert)" fill-opacity="0.85" stroke="#802828" stroke-width="0.8"/>
<circle cx="585.0" cy="400.4" r="3.6" fill="url(#g_gilbert)" fill-opacity="0.85" stroke="#802828" stroke-width="0.8"/>
<circle cx="592.3" cy="400.4" r="3.6" fill="url(#g_gilbert)" fill-opacity="0.85" stroke="#802828" stroke-width="0.8"/>
<circle cx="599.7" cy="394.5" r="3.6" fill="url(#g_gilbert)" fill-opacity="0.85" stroke="#802828" stroke-width="0.8"/>
<circle cx="607.0" cy="386.3" r="3.6" fill="url(#g_gilbert)" fill-opacity="0.85" stroke="#802828" stroke-width="0.8"/>
<circle cx="614.3" cy="388.0" r="3.6" fill="url(#g_gilbert)" fill-opacity="0.85" stroke="#802828" stroke-width="0.8"/>
<circle cx="621.6" cy="386.3" r="3.6" fill="url(#g_gilbert)" fill-opacity="0.85" stroke="#802828" stroke-width="0.8"/>
<circle cx="629.0" cy="387.1" r="3.6" fill="url(#g_gilbert)" fill-opacity="0.85" stroke="#802828" stroke-width="0.8"/>
<circle cx="636.3" cy="378.1" r="3.6" fill="url(#g_gilbert)" fill-opacity="0.85" stroke="#802828" stroke-width="0.8"/>
<circle cx="643.6" cy="371.0" r="3.6" fill="url(#g_gilbert)" fill-opacity="0.85" stroke="#802828" stroke-width="0.8"/>
<circle cx="650.9" cy="380.4" r="3.6" fill="url(#g_gilbert)" fill-opacity="0.85" stroke="#802828" stroke-width="0.8"/>
<circle cx="658.3" cy="374.5" r="3.6" fill="url(#g_gilbert)" fill-opacity="0.85" stroke="#802828" stroke-width="0.8"/>
<circle cx="665.6" cy="374.5" r="3.6" fill="url(#g_gilbert)" fill-opacity="0.85" stroke="#802828" stroke-width="0.8"/>
<circle cx="672.9" cy="379.8" r="3.6" fill="url(#g_gilbert)" fill-opacity="0.85" stroke="#802828" stroke-width="0.8"/>
<circle cx="680.3" cy="374.5" r="3.6" fill="url(#g_gilbert)" fill-opacity="0.85" stroke="#802828" stroke-width="0.8"/>
<circle cx="687.6" cy="378.1" r="3.6" fill="url(#g_gilbert)" fill-opacity="0.85" stroke="#802828" stroke-width="0.8"/>
<circle cx="694.9" cy="376.6" r="3.6" fill="url(#g_gilbert)" fill-opacity="0.85" stroke="#802828" stroke-width="0.8"/>
<circle cx="702.2" cy="377.0" r="3.6" fill="url(#g_gilbert)" fill-opacity="0.85" stroke="#802828" stroke-width="0.8"/>
<circle cx="709.6" cy="378.7" r="3.6" fill="url(#g_gilbert)" fill-opacity="0.85" stroke="#802828" stroke-width="0.8"/>
<circle cx="716.9" cy="375.0" r="3.6" fill="url(#g_gilbert)" fill-opacity="0.85" stroke="#802828" stroke-width="0.8"/>
<circle cx="724.2" cy="375.8" r="3.6" fill="url(#g_gilbert)" fill-opacity="0.85" stroke="#802828" stroke-width="0.8"/>
<circle cx="731.5" cy="371.7" r="3.6" fill="url(#g_gilbert)" fill-opacity="0.85" stroke="#802828" stroke-width="0.8"/>
<circle cx="738.9" cy="373.4" r="3.6" fill="url(#g_gilbert)" fill-opacity="0.85" stroke="#802828" stroke-width="0.8"/>
<circle cx="746.2" cy="377.3" r="3.6" fill="url(#g_gilbert)" fill-opacity="0.85" stroke="#802828" stroke-width="0.8"/>
<circle cx="753.5" cy="377.3" r="3.6" fill="url(#g_gilbert)" fill-opacity="0.85" stroke="#802828" stroke-width="0.8"/>
<circle cx="760.9" cy="377.8" r="3.6" fill="url(#g_gilbert)" fill-opacity="0.85" stroke="#802828" stroke-width="0.8"/>
<circle cx="768.2" cy="377.8" r="3.6" fill="url(#g_gilbert)" fill-opacity="0.85" stroke="#802828" stroke-width="0.8"/>
<circle cx="775.5" cy="378.7" r="3.6" fill="url(#g_gilbert)" fill-opacity="0.85" stroke="#802828" stroke-width="0.8"/>
<circle cx="782.8" cy="377.8" r="3.6" fill="url(#g_gilbert)" fill-opacity="0.85" stroke="#802828" stroke-width="0.8"/>
<circle cx="790.2" cy="379.9" r="3.6" fill="url(#g_gilbert)" fill-opacity="0.85" stroke="#802828" stroke-width="0.8"/>
<circle cx="797.5" cy="387.5" r="3.6" fill="url(#g_gilbert)" fill-opacity="0.85" stroke="#802828" stroke-width="0.8"/>
<circle cx="804.8" cy="386.3" r="3.6" fill="url(#g_gilbert)" fill-opacity="0.85" stroke="#802828" stroke-width="0.8"/>
<circle cx="812.1" cy="386.0" r="3.6" fill="url(#g_gilbert)" fill-opacity="0.85" stroke="#802828" stroke-width="0.8"/>
<circle cx="819.5" cy="386.9" r="3.6" fill="url(#g_gilbert)" fill-opacity="0.85" stroke="#802828" stroke-width="0.8"/>
<circle cx="826.8" cy="381.1" r="3.6" fill="url(#g_gilbert)" fill-opacity="0.85" stroke="#802828" stroke-width="0.8"/>
<circle cx="834.1" cy="382.0" r="3.6" fill="url(#g_gilbert)" fill-opacity="0.85" stroke="#802828" stroke-width="0.8"/>
<circle cx="841.4" cy="381.3" r="3.6" fill="url(#g_gilbert)" fill-opacity="0.85" stroke="#802828" stroke-width="0.8"/>
<circle cx="848.8" cy="378.7" r="3.6" fill="url(#g_gilbert)" fill-opacity="0.85" stroke="#802828" stroke-width="0.8"/>
<circle cx="856.1" cy="374.6" r="3.6" fill="url(#g_gilbert)" fill-opacity="0.85" stroke="#802828" stroke-width="0.8"/>
<circle cx="863.4" cy="375.2" r="3.6" fill="url(#g_gilbert)" fill-opacity="0.85" stroke="#802828" stroke-width="0.8"/>
<circle cx="870.8" cy="375.8" r="3.6" fill="url(#g_gilbert)" fill-opacity="0.85" stroke="#802828" stroke-width="0.8"/>
<circle cx="878.1" cy="379.9" r="3.6" fill="url(#g_gilbert)" fill-opacity="0.85" stroke="#802828" stroke-width="0.8"/>
<circle cx="885.4" cy="377.1" r="3.6" fill="url(#g_gilbert)" fill-opacity="0.85" stroke="#802828" stroke-width="0.8"/>
<circle cx="892.7" cy="375.1" r="3.6" fill="url(#g_gilbert)" fill-opacity="0.85" stroke="#802828" stroke-width="0.8"/>
<circle cx="900.1" cy="380.5" r="3.6" fill="url(#g_gilbert)" fill-opacity="0.85" stroke="#802828" stroke-width="0.8"/>
<circle cx="907.4" cy="374.3" r="3.6" fill="url(#g_gilbert)" fill-opacity="0.85" stroke="#802828" stroke-width="0.8"/>
<circle cx="914.7" cy="377.2" r="3.6" fill="url(#g_gilbert)" fill-opacity="0.85" stroke="#802828" stroke-width="0.8"/>
<circle cx="922.0" cy="374.6" r="3.6" fill="url(#g_gilbert)" fill-opacity="0.85" stroke="#802828" stroke-width="0.8"/>
<circle cx="929.4" cy="374.0" r="3.6" fill="url(#g_gilbert)" fill-opacity="0.85" stroke="#802828" stroke-width="0.8"/>
<circle cx="936.7" cy="371.1" r="3.6" fill="url(#g_gilbert)" fill-opacity="0.85" stroke="#802828" stroke-width="0.8"/>
<circle cx="944.0" cy="375.8" r="3.6" fill="url(#g_gilbert)" fill-opacity="0.85" stroke="#802828" stroke-width="0.8"/>
<circle cx="951.4" cy="379.1" r="3.6" fill="url(#g_gilbert)" fill-opacity="0.85" stroke="#802828" stroke-width="0.8"/>
<circle cx="958.7" cy="378.1" r="3.6" fill="url(#g_gilbert)" fill-opacity="0.85" stroke="#802828" stroke-width="0.8"/>
<circle cx="966.0" cy="375.2" r="3.6" fill="url(#g_gilbert)" fill-opacity="0.85" stroke="#802828" stroke-width="0.8"/>
<circle cx="973.3" cy="375.2" r="3.6" fill="url(#g_gilbert)" fill-opacity="0.85" stroke="#802828" stroke-width="0.8"/>
<polyline points="204.0,374.6 211.3,374.3 218.7,397.5 226.0,410.6 233.3,414.5 240.6,415.1 248.0,420.4 255.3,412.1 262.6,433.2 269.9,445.3 277.3,457.0 284.6,464.9 291.9,464.0 299.3,462.3 306.6,471.7 313.9,475.2 321.2,471.1 328.6,465.2 335.9,464.0 343.2,451.7 350.5,448.2 357.9,446.5 365.2,448.8 372.5,444.0 379.8,439.1 387.2,442.5 394.5,435.7 401.8,427.9 409.2,423.5 416.5,419.4 423.8,427.2 431.1,427.4 438.5,420.0 445.8,421.8 453.1,414.1 460.4,411.1 467.8,413.5 475.1,396.8 482.4,383.4 489.8,378.1 497.1,392.7 504.4,396.1 511.7,392.8 519.1,371.7 526.4,373.4 533.7,359.4 541.0,347.0 548.4,344.1 555.7,333.7 563.0,323.3 570.4,315.7 577.7,323.3 585.0,326.3 592.3,326.9 599.7,315.1 607.0,305.7 614.3,297.5 621.6,294.0 629.0,274.7 636.3,278.2 643.6,258.8 650.9,232.0 658.3,218.7 665.6,200.3 672.9,200.3 680.3,192.8 687.6,186.2 694.9,176.1 702.2,173.1 709.6,178.5 716.9,187.2 724.2,195.8 731.5,185.2 738.9,179.8 746.2,171.4 753.5,155.8 760.9,166.7 768.2,159.4 775.5,166.7 782.8,179.9 790.2,181.6 797.5,186.9 804.8,184.0 812.1,172.3 819.5,177.8 826.8,169.9 834.1,176.6 841.4,180.7 848.8,182.8 856.1,201.4 863.4,210.7 870.8,209.5 878.1,218.2 885.4,214.9 892.7,212.5 900.1,222.8 907.4,208.0 914.7,223.5 922.0,232.6 929.4,237.5 936.7,240.6 944.0,249.6 951.4,246.9 958.7,240.1 966.0,240.9 973.3,246.9" fill="none" stroke="#0a0a36" stroke-width="3.1" stroke-linejoin="round"/>
<circle cx="204.0" cy="374.6" r="3.6" fill="url(#g_maricopa)" fill-opacity="0.85" stroke="#3c3c58" stroke-width="0.8"/>
<circle cx="211.3" cy="374.3" r="3.6" fill="url(#g_maricopa)" fill-opacity="0.85" stroke="#3c3c58" stroke-width="0.8"/>
<circle cx="218.7" cy="397.5" r="3.6" fill="url(#g_maricopa)" fill-opacity="0.85" stroke="#3c3c58" stroke-width="0.8"/>
<circle cx="226.0" cy="410.6" r="3.6" fill="url(#g_maricopa)" fill-opacity="0.85" stroke="#3c3c58" stroke-width="0.8"/>
<circle cx="233.3" cy="414.5" r="3.6" fill="url(#g_maricopa)" fill-opacity="0.85" stroke="#3c3c58" stroke-width="0.8"/>
<circle cx="240.6" cy="415.1" r="3.6" fill="url(#g_maricopa)" fill-opacity="0.85" stroke="#3c3c58" stroke-width="0.8"/>
<circle cx="248.0" cy="420.4" r="3.6" fill="url(#g_maricopa)" fill-opacity="0.85" stroke="#3c3c58" stroke-width="0.8"/>
<circle cx="255.3" cy="412.1" r="3.6" fill="url(#g_maricopa)" fill-opacity="0.85" stroke="#3c3c58" stroke-width="0.8"/>
<circle cx="262.6" cy="433.2" r="3.6" fill="url(#g_maricopa)" fill-opacity="0.85" stroke="#3c3c58" stroke-width="0.8"/>
<circle cx="269.9" cy="445.3" r="3.6" fill="url(#g_maricopa)" fill-opacity="0.85" stroke="#3c3c58" stroke-width="0.8"/>
<circle cx="277.3" cy="457.0" r="3.6" fill="url(#g_maricopa)" fill-opacity="0.85" stroke="#3c3c58" stroke-width="0.8"/>
<circle cx="284.6" cy="464.9" r="3.6" fill="url(#g_maricopa)" fill-opacity="0.85" stroke="#3c3c58" stroke-width="0.8"/>
<circle cx="291.9" cy="464.0" r="3.6" fill="url(#g_maricopa)" fill-opacity="0.85" stroke="#3c3c58" stroke-width="0.8"/>
<circle cx="299.3" cy="462.3" r="3.6" fill="url(#g_maricopa)" fill-opacity="0.85" stroke="#3c3c58" stroke-width="0.8"/>
<circle cx="306.6" cy="471.7" r="3.6" fill="url(#g_maricopa)" fill-opacity="0.85" stroke="#3c3c58" stroke-width="0.8"/>
<circle cx="313.9" cy="475.2" r="3.6" fill="url(#g_maricopa)" fill-opacity="0.85" stroke="#3c3c58" stroke-width="0.8"/>
<circle cx="321.2" cy="471.1" r="3.6" fill="url(#g_maricopa)" fill-opacity="0.85" stroke="#3c3c58" stroke-width="0.8"/>
<circle cx="328.6" cy="465.2" r="3.6" fill="url(#g_maricopa)" fill-opacity="0.85" stroke="#3c3c58" stroke-width="0.8"/>
<circle cx="335.9" cy="464.0" r="3.6" fill="url(#g_maricopa)" fill-opacity="0.85" stroke="#3c3c58" stroke-width="0.8"/>
<circle cx="343.2" cy="451.7" r="3.6" fill="url(#g_maricopa)" fill-opacity="0.85" stroke="#3c3c58" stroke-width="0.8"/>
<circle cx="350.5" cy="448.2" r="3.6" fill="url(#g_maricopa)" fill-opacity="0.85" stroke="#3c3c58" stroke-width="0.8"/>
<circle cx="357.9" cy="446.5" r="3.6" fill="url(#g_maricopa)" fill-opacity="0.85" stroke="#3c3c58" stroke-width="0.8"/>
<circle cx="365.2" cy="448.8" r="3.6" fill="url(#g_maricopa)" fill-opacity="0.85" stroke="#3c3c58" stroke-width="0.8"/>
<circle cx="372.5" cy="444.0" r="3.6" fill="url(#g_maricopa)" fill-opacity="0.85" stroke="#3c3c58" stroke-width="0.8"/>
<circle cx="379.8" cy="439.1" r="3.6" fill="url(#g_maricopa)" fill-opacity="0.85" stroke="#3c3c58" stroke-width="0.8"/>
<circle cx="387.2" cy="442.5" r="3.6" fill="url(#g_maricopa)" fill-opacity="0.85" stroke="#3c3c58" stroke-width="0.8"/>
<circle cx="394.5" cy="435.7" r="3.6" fill="url(#g_maricopa)" fill-opacity="0.85" stroke="#3c3c58" stroke-width="0.8"/>
<circle cx="401.8" cy="427.9" r="3.6" fill="url(#g_maricopa)" fill-opacity="0.85" stroke="#3c3c58" stroke-width="0.8"/>
<circle cx="409.2" cy="423.5" r="3.6" fill="url(#g_maricopa)" fill-opacity="0.85" stroke="#3c3c58" stroke-width="0.8"/>
<circle cx="416.5" cy="419.4" r="3.6" fill="url(#g_maricopa)" fill-opacity="0.85" stroke="#3c3c58" stroke-width="0.8"/>
<circle cx="423.8" cy="427.2" r="3.6" fill="url(#g_maricopa)" fill-opacity="0.85" stroke="#3c3c58" stroke-width="0.8"/>
<circle cx="431.1" cy="427.4" r="3.6" fill="url(#g_maricopa)" fill-opacity="0.85" stroke="#3c3c58" stroke-width="0.8"/>
<circle cx="438.5" cy="420.0" r="3.6" fill="url(#g_maricopa)" fill-opacity="0.85" stroke="#3c3c58" stroke-width="0.8"/>
<circle cx="445.8" cy="421.8" r="3.6" fill="url(#g_maricopa)" fill-opacity="0.85" stroke="#3c3c58" stroke-width="0.8"/>
<circle cx="453.1" cy="414.1" r="3.6" fill="url(#g_maricopa)" fill-opacity="0.85" stroke="#3c3c58" stroke-width="0.8"/>
<circle cx="460.4" cy="411.1" r="3.6" fill="url(#g_maricopa)" fill-opacity="0.85" stroke="#3c3c58" stroke-width="0.8"/>
<circle cx="467.8" cy="413.5" r="3.6" fill="url(#g_maricopa)" fill-opacity="0.85" stroke="#3c3c58" stroke-width="0.8"/>
<circle cx="475.1" cy="396.8" r="3.6" fill="url(#g_maricopa)" fill-opacity="0.85" stroke="#3c3c58" stroke-width="0.8"/>
<circle cx="482.4" cy="383.4" r="3.6" fill="url(#g_maricopa)" fill-opacity="0.85" stroke="#3c3c58" stroke-width="0.8"/>
<circle cx="489.8" cy="378.1" r="3.6" fill="url(#g_maricopa)" fill-opacity="0.85" stroke="#3c3c58" stroke-width="0.8"/>
<circle cx="497.1" cy="392.7" r="3.6" fill="url(#g_maricopa)" fill-opacity="0.85" stroke="#3c3c58" stroke-width="0.8"/>
<circle cx="504.4" cy="396.1" r="3.6" fill="url(#g_maricopa)" fill-opacity="0.85" stroke="#3c3c58" stroke-width="0.8"/>
<circle cx="511.7" cy="392.8" r="3.6" fill="url(#g_maricopa)" fill-opacity="0.85" stroke="#3c3c58" stroke-width="0.8"/>
<circle cx="519.1" cy="371.7" r="3.6" fill="url(#g_maricopa)" fill-opacity="0.85" stroke="#3c3c58" stroke-width="0.8"/>
<circle cx="526.4" cy="373.4" r="3.6" fill="url(#g_maricopa)" fill-opacity="0.85" stroke="#3c3c58" stroke-width="0.8"/>
<circle cx="533.7" cy="359.4" r="3.6" fill="url(#g_maricopa)" fill-opacity="0.85" stroke="#3c3c58" stroke-width="0.8"/>
<circle cx="541.0" cy="347.0" r="3.6" fill="url(#g_maricopa)" fill-opacity="0.85" stroke="#3c3c58" stroke-width="0.8"/>
<circle cx="548.4" cy="344.1" r="3.6" fill="url(#g_maricopa)" fill-opacity="0.85" stroke="#3c3c58" stroke-width="0.8"/>
<circle cx="555.7" cy="333.7" r="3.6" fill="url(#g_maricopa)" fill-opacity="0.85" stroke="#3c3c58" stroke-width="0.8"/>
<circle cx="563.0" cy="323.3" r="3.6" fill="url(#g_maricopa)" fill-opacity="0.85" stroke="#3c3c58" stroke-width="0.8"/>
<circle cx="570.4" cy="315.7" r="3.6" fill="url(#g_maricopa)" fill-opacity="0.85" stroke="#3c3c58" stroke-width="0.8"/>
<circle cx="577.7" cy="323.3" r="3.6" fill="url(#g_maricopa)" fill-opacity="0.85" stroke="#3c3c58" stroke-width="0.8"/>
<circle cx="585.0" cy="326.3" r="3.6" fill="url(#g_maricopa)" fill-opacity="0.85" stroke="#3c3c58" stroke-width="0.8"/>
<circle cx="592.3" cy="326.9" r="3.6" fill="url(#g_maricopa)" fill-opacity="0.85" stroke="#3c3c58" stroke-width="0.8"/>
<circle cx="599.7" cy="315.1" r="3.6" fill="url(#g_maricopa)" fill-opacity="0.85" stroke="#3c3c58" stroke-width="0.8"/>
<circle cx="607.0" cy="305.7" r="3.6" fill="url(#g_maricopa)" fill-opacity="0.85" stroke="#3c3c58" stroke-width="0.8"/>
<circle cx="614.3" cy="297.5" r="3.6" fill="url(#g_maricopa)" fill-opacity="0.85" stroke="#3c3c58" stroke-width="0.8"/>
<circle cx="621.6" cy="294.0" r="3.6" fill="url(#g_maricopa)" fill-opacity="0.85" stroke="#3c3c58" stroke-width="0.8"/>
<circle cx="629.0" cy="274.7" r="3.6" fill="url(#g_maricopa)" fill-opacity="0.85" stroke="#3c3c58" stroke-width="0.8"/>
<circle cx="636.3" cy="278.2" r="3.6" fill="url(#g_maricopa)" fill-opacity="0.85" stroke="#3c3c58" stroke-width="0.8"/>
<circle cx="643.6" cy="258.8" r="3.6" fill="url(#g_maricopa)" fill-opacity="0.85" stroke="#3c3c58" stroke-width="0.8"/>
<circle cx="650.9" cy="232.0" r="3.6" fill="url(#g_maricopa)" fill-opacity="0.85" stroke="#3c3c58" stroke-width="0.8"/>
<circle cx="658.3" cy="218.7" r="3.6" fill="url(#g_maricopa)" fill-opacity="0.85" stroke="#3c3c58" stroke-width="0.8"/>
<circle cx="665.6" cy="200.3" r="3.6" fill="url(#g_maricopa)" fill-opacity="0.85" stroke="#3c3c58" stroke-width="0.8"/>
<circle cx="672.9" cy="200.3" r="3.6" fill="url(#g_maricopa)" fill-opacity="0.85" stroke="#3c3c58" stroke-width="0.8"/>
<circle cx="680.3" cy="192.8" r="3.6" fill="url(#g_maricopa)" fill-opacity="0.85" stroke="#3c3c58" stroke-width="0.8"/>
<circle cx="687.6" cy="186.2" r="3.6" fill="url(#g_maricopa)" fill-opacity="0.85" stroke="#3c3c58" stroke-width="0.8"/>
<circle cx="694.9" cy="176.1" r="3.6" fill="url(#g_maricopa)" fill-opacity="0.85" stroke="#3c3c58" stroke-width="0.8"/>
<circle cx="702.2" cy="173.1" r="3.6" fill="url(#g_maricopa)" fill-opacity="0.85" stroke="#3c3c58" stroke-width="0.8"/>
<circle cx="709.6" cy="178.5" r="3.6" fill="url(#g_maricopa)" fill-opacity="0.85" stroke="#3c3c58" stroke-width="0.8"/>
<circle cx="716.9" cy="187.2" r="3.6" fill="url(#g_maricopa)" fill-opacity="0.85" stroke="#3c3c58" stroke-width="0.8"/>
<circle cx="724.2" cy="195.8" r="3.6" fill="url(#g_maricopa)" fill-opacity="0.85" stroke="#3c3c58" stroke-width="0.8"/>
<circle cx="731.5" cy="185.2" r="3.6" fill="url(#g_maricopa)" fill-opacity="0.85" stroke="#3c3c58" stroke-width="0.8"/>
<circle cx="738.9" cy="179.8" r="3.6" fill="url(#g_maricopa)" fill-opacity="0.85" stroke="#3c3c58" stroke-width="0.8"/>
<circle cx="746.2" cy="171.4" r="3.6" fill="url(#g_maricopa)" fill-opacity="0.85" stroke="#3c3c58" stroke-width="0.8"/>
<circle cx="753.5" cy="155.8" r="3.6" fill="url(#g_maricopa)" fill-opacity="0.85" stroke="#3c3c58" stroke-width="0.8"/>
<circle cx="760.9" cy="166.7" r="3.6" fill="url(#g_maricopa)" fill-opacity="0.85" stroke="#3c3c58" stroke-width="0.8"/>
<circle cx="768.2" cy="159.4" r="3.6" fill="url(#g_maricopa)" fill-opacity="0.85" stroke="#3c3c58" stroke-width="0.8"/>
<circle cx="775.5" cy="166.7" r="3.6" fill="url(#g_maricopa)" fill-opacity="0.85" stroke="#3c3c58" stroke-width="0.8"/>
<circle cx="782.8" cy="179.9" r="3.6" fill="url(#g_maricopa)" fill-opacity="0.85" stroke="#3c3c58" stroke-width="0.8"/>
<circle cx="790.2" cy="181.6" r="3.6" fill="url(#g_maricopa)" fill-opacity="0.85" stroke="#3c3c58" stroke-width="0.8"/>
<circle cx="797.5" cy="186.9" r="3.6" fill="url(#g_maricopa)" fill-opacity="0.85" stroke="#3c3c58" stroke-width="0.8"/>
<circle cx="804.8" cy="184.0" r="3.6" fill="url(#g_maricopa)" fill-opacity="0.85" stroke="#3c3c58" stroke-width="0.8"/>
<circle cx="812.1" cy="172.3" r="3.6" fill="url(#g_maricopa)" fill-opacity="0.85" stroke="#3c3c58" stroke-width="0.8"/>
<circle cx="819.5" cy="177.8" r="3.6" fill="url(#g_maricopa)" fill-opacity="0.85" stroke="#3c3c58" stroke-width="0.8"/>
<circle cx="826.8" cy="169.9" r="3.6" fill="url(#g_maricopa)" fill-opacity="0.85" stroke="#3c3c58" stroke-width="0.8"/>
<circle cx="834.1" cy="176.6" r="3.6" fill="url(#g_maricopa)" fill-opacity="0.85" stroke="#3c3c58" stroke-width="0.8"/>
<circle cx="841.4" cy="180.7" r="3.6" fill="url(#g_maricopa)" fill-opacity="0.85" stroke="#3c3c58" stroke-width="0.8"/>
<circle cx="848.8" cy="182.8" r="3.6" fill="url(#g_maricopa)" fill-opacity="0.85" stroke="#3c3c58" stroke-width="0.8"/>
<circle cx="856.1" cy="201.4" r="3.6" fill="url(#g_maricopa)" fill-opacity="0.85" stroke="#3c3c58" stroke-width="0.8"/>
<circle cx="863.4" cy="210.7" r="3.6" fill="url(#g_maricopa)" fill-opacity="0.85" stroke="#3c3c58" stroke-width="0.8"/>
<circle cx="870.8" cy="209.5" r="3.6" fill="url(#g_maricopa)" fill-opacity="0.85" stroke="#3c3c58" stroke-width="0.8"/>
<circle cx="878.1" cy="218.2" r="3.6" fill="url(#g_maricopa)" fill-opacity="0.85" stroke="#3c3c58" stroke-width="0.8"/>
<circle cx="885.4" cy="214.9" r="3.6" fill="url(#g_maricopa)" fill-opacity="0.85" stroke="#3c3c58" stroke-width="0.8"/>
<circle cx="892.7" cy="212.5" r="3.6" fill="url(#g_maricopa)" fill-opacity="0.85" stroke="#3c3c58" stroke-width="0.8"/>
<circle cx="900.1" cy="222.8" r="3.6" fill="url(#g_maricopa)" fill-opacity="0.85" stroke="#3c3c58" stroke-width="0.8"/>
<circle cx="907.4" cy="208.0" r="3.6" fill="url(#g_maricopa)" fill-opacity="0.85" stroke="#3c3c58" stroke-width="0.8"/>
<circle cx="914.7" cy="223.5" r="3.6" fill="url(#g_maricopa)" fill-opacity="0.85" stroke="#3c3c58" stroke-width="0.8"/>
<circle cx="922.0" cy="232.6" r="3.6" fill="url(#g_maricopa)" fill-opacity="0.85" stroke="#3c3c58" stroke-width="0.8"/>
<circle cx="929.4" cy="237.5" r="3.6" fill="url(#g_maricopa)" fill-opacity="0.85" stroke="#3c3c58" stroke-width="0.8"/>
<circle cx="936.7" cy="240.6" r="3.6" fill="url(#g_maricopa)" fill-opacity="0.85" stroke="#3c3c58" stroke-width="0.8"/>
<circle cx="944.0" cy="249.6" r="3.6" fill="url(#g_maricopa)" fill-opacity="0.85" stroke="#3c3c58" stroke-width="0.8"/>
<circle cx="951.4" cy="246.9" r="3.6" fill="url(#g_maricopa)" fill-opacity="0.85" stroke="#3c3c58" stroke-width="0.8"/>
<circle cx="958.7" cy="240.1" r="3.6" fill="url(#g_maricopa)" fill-opacity="0.85" stroke="#3c3c58" stroke-width="0.8"/>
<circle cx="966.0" cy="240.9" r="3.6" fill="url(#g_maricopa)" fill-opacity="0.85" stroke="#3c3c58" stroke-width="0.8"/>
<circle cx="973.3" cy="246.9" r="3.6" fill="url(#g_maricopa)" fill-opacity="0.85" stroke="#3c3c58" stroke-width="0.8"/>
<polyline points="204.0,417.6 211.3,421.7 218.7,423.9 226.0,421.0 233.3,417.7 240.6,407.2 248.0,413.1 255.3,406.6 262.6,404.4 269.9,404.5 277.3,410.4 284.6,411.4 291.9,408.1 299.3,401.6 306.6,397.2 313.9,391.1 321.2,387.5 328.6,383.8 335.9,380.2 343.2,377.3 350.5,373.4 357.9,374.8 365.2,373.4 372.5,382.1 379.8,375.3 387.2,380.2 394.5,376.5 401.8,373.4 409.2,370.9 416.5,370.5 423.8,364.5 431.1,359.4 438.5,354.0 445.8,352.3 453.1,353.4 460.4,352.9 467.8,361.6 475.1,355.5 482.4,360.6 489.8,355.7 497.1,346.7 504.4,344.1 511.7,350.6 519.1,355.2 526.4,351.7 533.7,355.8 541.0,355.2 548.4,350.6 555.7,350.6 563.0,347.6 570.4,340.6 577.7,345.3 585.0,351.6 592.3,349.4 599.7,348.2 607.0,344.0 614.3,344.6 621.6,347.0 629.0,345.8 636.3,346.4 643.6,346.4 650.9,349.3 658.3,348.7 665.6,340.5 672.9,337.6 680.3,346.4 687.6,346.4 694.9,354.0 702.2,357.0 709.6,362.9 716.9,366.4 724.2,366.4 731.5,369.9 738.9,367.6 746.2,368.7 753.5,360.9 760.9,366.0 768.2,362.5 775.5,360.2 782.8,367.9 790.2,365.8 797.5,363.7 804.8,363.5 812.1,368.2 819.5,368.4 826.8,365.8 834.1,363.5 841.4,360.5 848.8,357.6 856.1,359.9 863.4,352.8 870.8,351.1 878.1,351.7 885.4,348.3 892.7,340.7 900.1,333.5 907.4,332.7 914.7,333.8 922.0,332.7 929.4,334.9 936.7,334.4 944.0,331.6 951.4,335.3 958.7,333.8 966.0,324.0 973.3,324.0" fill="none" stroke="#861612" stroke-width="3.1" stroke-linejoin="round"/>
<circle cx="204.0" cy="417.6" r="3.6" fill="url(#g_mesa)" fill-opacity="0.85" stroke="#662a26" stroke-width="0.8"/>
<circle cx="211.3" cy="421.7" r="3.6" fill="url(#g_mesa)" fill-opacity="0.85" stroke="#662a26" stroke-width="0.8"/>
<circle cx="218.7" cy="423.9" r="3.6" fill="url(#g_mesa)" fill-opacity="0.85" stroke="#662a26" stroke-width="0.8"/>
<circle cx="226.0" cy="421.0" r="3.6" fill="url(#g_mesa)" fill-opacity="0.85" stroke="#662a26" stroke-width="0.8"/>
<circle cx="233.3" cy="417.7" r="3.6" fill="url(#g_mesa)" fill-opacity="0.85" stroke="#662a26" stroke-width="0.8"/>
<circle cx="240.6" cy="407.2" r="3.6" fill="url(#g_mesa)" fill-opacity="0.85" stroke="#662a26" stroke-width="0.8"/>
<circle cx="248.0" cy="413.1" r="3.6" fill="url(#g_mesa)" fill-opacity="0.85" stroke="#662a26" stroke-width="0.8"/>
<circle cx="255.3" cy="406.6" r="3.6" fill="url(#g_mesa)" fill-opacity="0.85" stroke="#662a26" stroke-width="0.8"/>
<circle cx="262.6" cy="404.4" r="3.6" fill="url(#g_mesa)" fill-opacity="0.85" stroke="#662a26" stroke-width="0.8"/>
<circle cx="269.9" cy="404.5" r="3.6" fill="url(#g_mesa)" fill-opacity="0.85" stroke="#662a26" stroke-width="0.8"/>
<circle cx="277.3" cy="410.4" r="3.6" fill="url(#g_mesa)" fill-opacity="0.85" stroke="#662a26" stroke-width="0.8"/>
<circle cx="284.6" cy="411.4" r="3.6" fill="url(#g_mesa)" fill-opacity="0.85" stroke="#662a26" stroke-width="0.8"/>
<circle cx="291.9" cy="408.1" r="3.6" fill="url(#g_mesa)" fill-opacity="0.85" stroke="#662a26" stroke-width="0.8"/>
<circle cx="299.3" cy="401.6" r="3.6" fill="url(#g_mesa)" fill-opacity="0.85" stroke="#662a26" stroke-width="0.8"/>
<circle cx="306.6" cy="397.2" r="3.6" fill="url(#g_mesa)" fill-opacity="0.85" stroke="#662a26" stroke-width="0.8"/>
<circle cx="313.9" cy="391.1" r="3.6" fill="url(#g_mesa)" fill-opacity="0.85" stroke="#662a26" stroke-width="0.8"/>
<circle cx="321.2" cy="387.5" r="3.6" fill="url(#g_mesa)" fill-opacity="0.85" stroke="#662a26" stroke-width="0.8"/>
<circle cx="328.6" cy="383.8" r="3.6" fill="url(#g_mesa)" fill-opacity="0.85" stroke="#662a26" stroke-width="0.8"/>
<circle cx="335.9" cy="380.2" r="3.6" fill="url(#g_mesa)" fill-opacity="0.85" stroke="#662a26" stroke-width="0.8"/>
<circle cx="343.2" cy="377.3" r="3.6" fill="url(#g_mesa)" fill-opacity="0.85" stroke="#662a26" stroke-width="0.8"/>
<circle cx="350.5" cy="373.4" r="3.6" fill="url(#g_mesa)" fill-opacity="0.85" stroke="#662a26" stroke-width="0.8"/>
<circle cx="357.9" cy="374.8" r="3.6" fill="url(#g_mesa)" fill-opacity="0.85" stroke="#662a26" stroke-width="0.8"/>
<circle cx="365.2" cy="373.4" r="3.6" fill="url(#g_mesa)" fill-opacity="0.85" stroke="#662a26" stroke-width="0.8"/>
<circle cx="372.5" cy="382.1" r="3.6" fill="url(#g_mesa)" fill-opacity="0.85" stroke="#662a26" stroke-width="0.8"/>
<circle cx="379.8" cy="375.3" r="3.6" fill="url(#g_mesa)" fill-opacity="0.85" stroke="#662a26" stroke-width="0.8"/>
<circle cx="387.2" cy="380.2" r="3.6" fill="url(#g_mesa)" fill-opacity="0.85" stroke="#662a26" stroke-width="0.8"/>
<circle cx="394.5" cy="376.5" r="3.6" fill="url(#g_mesa)" fill-opacity="0.85" stroke="#662a26" stroke-width="0.8"/>
<circle cx="401.8" cy="373.4" r="3.6" fill="url(#g_mesa)" fill-opacity="0.85" stroke="#662a26" stroke-width="0.8"/>
<circle cx="409.2" cy="370.9" r="3.6" fill="url(#g_mesa)" fill-opacity="0.85" stroke="#662a26" stroke-width="0.8"/>
<circle cx="416.5" cy="370.5" r="3.6" fill="url(#g_mesa)" fill-opacity="0.85" stroke="#662a26" stroke-width="0.8"/>
<circle cx="423.8" cy="364.5" r="3.6" fill="url(#g_mesa)" fill-opacity="0.85" stroke="#662a26" stroke-width="0.8"/>
<circle cx="431.1" cy="359.4" r="3.6" fill="url(#g_mesa)" fill-opacity="0.85" stroke="#662a26" stroke-width="0.8"/>
<circle cx="438.5" cy="354.0" r="3.6" fill="url(#g_mesa)" fill-opacity="0.85" stroke="#662a26" stroke-width="0.8"/>
<circle cx="445.8" cy="352.3" r="3.6" fill="url(#g_mesa)" fill-opacity="0.85" stroke="#662a26" stroke-width="0.8"/>
<circle cx="453.1" cy="353.4" r="3.6" fill="url(#g_mesa)" fill-opacity="0.85" stroke="#662a26" stroke-width="0.8"/>
<circle cx="460.4" cy="352.9" r="3.6" fill="url(#g_mesa)" fill-opacity="0.85" stroke="#662a26" stroke-width="0.8"/>
<circle cx="467.8" cy="361.6" r="3.6" fill="url(#g_mesa)" fill-opacity="0.85" stroke="#662a26" stroke-width="0.8"/>
<circle cx="475.1" cy="355.5" r="3.6" fill="url(#g_mesa)" fill-opacity="0.85" stroke="#662a26" stroke-width="0.8"/>
<circle cx="482.4" cy="360.6" r="3.6" fill="url(#g_mesa)" fill-opacity="0.85" stroke="#662a26" stroke-width="0.8"/>
<circle cx="489.8" cy="355.7" r="3.6" fill="url(#g_mesa)" fill-opacity="0.85" stroke="#662a26" stroke-width="0.8"/>
<circle cx="497.1" cy="346.7" r="3.6" fill="url(#g_mesa)" fill-opacity="0.85" stroke="#662a26" stroke-width="0.8"/>
<circle cx="504.4" cy="344.1" r="3.6" fill="url(#g_mesa)" fill-opacity="0.85" stroke="#662a26" stroke-width="0.8"/>
<circle cx="511.7" cy="350.6" r="3.6" fill="url(#g_mesa)" fill-opacity="0.85" stroke="#662a26" stroke-width="0.8"/>
<circle cx="519.1" cy="355.2" r="3.6" fill="url(#g_mesa)" fill-opacity="0.85" stroke="#662a26" stroke-width="0.8"/>
<circle cx="526.4" cy="351.7" r="3.6" fill="url(#g_mesa)" fill-opacity="0.85" stroke="#662a26" stroke-width="0.8"/>
<circle cx="533.7" cy="355.8" r="3.6" fill="url(#g_mesa)" fill-opacity="0.85" stroke="#662a26" stroke-width="0.8"/>
<circle cx="541.0" cy="355.2" r="3.6" fill="url(#g_mesa)" fill-opacity="0.85" stroke="#662a26" stroke-width="0.8"/>
<circle cx="548.4" cy="350.6" r="3.6" fill="url(#g_mesa)" fill-opacity="0.85" stroke="#662a26" stroke-width="0.8"/>
<circle cx="555.7" cy="350.6" r="3.6" fill="url(#g_mesa)" fill-opacity="0.85" stroke="#662a26" stroke-width="0.8"/>
<circle cx="563.0" cy="347.6" r="3.6" fill="url(#g_mesa)" fill-opacity="0.85" stroke="#662a26" stroke-width="0.8"/>
<circle cx="570.4" cy="340.6" r="3.6" fill="url(#g_mesa)" fill-opacity="0.85" stroke="#662a26" stroke-width="0.8"/>
<circle cx="577.7" cy="345.3" r="3.6" fill="url(#g_mesa)" fill-opacity="0.85" stroke="#662a26" stroke-width="0.8"/>
<circle cx="585.0" cy="351.6" r="3.6" fill="url(#g_mesa)" fill-opacity="0.85" stroke="#662a26" stroke-width="0.8"/>
<circle cx="592.3" cy="349.4" r="3.6" fill="url(#g_mesa)" fill-opacity="0.85" stroke="#662a26" stroke-width="0.8"/>
<circle cx="599.7" cy="348.2" r="3.6" fill="url(#g_mesa)" fill-opacity="0.85" stroke="#662a26" stroke-width="0.8"/>
<circle cx="607.0" cy="344.0" r="3.6" fill="url(#g_mesa)" fill-opacity="0.85" stroke="#662a26" stroke-width="0.8"/>
<circle cx="614.3" cy="344.6" r="3.6" fill="url(#g_mesa)" fill-opacity="0.85" stroke="#662a26" stroke-width="0.8"/>
<circle cx="621.6" cy="347.0" r="3.6" fill="url(#g_mesa)" fill-opacity="0.85" stroke="#662a26" stroke-width="0.8"/>
<circle cx="629.0" cy="345.8" r="3.6" fill="url(#g_mesa)" fill-opacity="0.85" stroke="#662a26" stroke-width="0.8"/>
<circle cx="636.3" cy="346.4" r="3.6" fill="url(#g_mesa)" fill-opacity="0.85" stroke="#662a26" stroke-width="0.8"/>
<circle cx="643.6" cy="346.4" r="3.6" fill="url(#g_mesa)" fill-opacity="0.85" stroke="#662a26" stroke-width="0.8"/>
<circle cx="650.9" cy="349.3" r="3.6" fill="url(#g_mesa)" fill-opacity="0.85" stroke="#662a26" stroke-width="0.8"/>
<circle cx="658.3" cy="348.7" r="3.6" fill="url(#g_mesa)" fill-opacity="0.85" stroke="#662a26" stroke-width="0.8"/>
<circle cx="665.6" cy="340.5" r="3.6" fill="url(#g_mesa)" fill-opacity="0.85" stroke="#662a26" stroke-width="0.8"/>
<circle cx="672.9" cy="337.6" r="3.6" fill="url(#g_mesa)" fill-opacity="0.85" stroke="#662a26" stroke-width="0.8"/>
<circle cx="680.3" cy="346.4" r="3.6" fill="url(#g_mesa)" fill-opacity="0.85" stroke="#662a26" stroke-width="0.8"/>
<circle cx="687.6" cy="346.4" r="3.6" fill="url(#g_mesa)" fill-opacity="0.85" stroke="#662a26" stroke-width="0.8"/>
<circle cx="694.9" cy="354.0" r="3.6" fill="url(#g_mesa)" fill-opacity="0.85" stroke="#662a26" stroke-width="0.8"/>
<circle cx="702.2" cy="357.0" r="3.6" fill="url(#g_mesa)" fill-opacity="0.85" stroke="#662a26" stroke-width="0.8"/>
<circle cx="709.6" cy="362.9" r="3.6" fill="url(#g_mesa)" fill-opacity="0.85" stroke="#662a26" stroke-width="0.8"/>
<circle cx="716.9" cy="366.4" r="3.6" fill="url(#g_mesa)" fill-opacity="0.85" stroke="#662a26" stroke-width="0.8"/>
<circle cx="724.2" cy="366.4" r="3.6" fill="url(#g_mesa)" fill-opacity="0.85" stroke="#662a26" stroke-width="0.8"/>
<circle cx="731.5" cy="369.9" r="3.6" fill="url(#g_mesa)" fill-opacity="0.85" stroke="#662a26" stroke-width="0.8"/>
<circle cx="738.9" cy="367.6" r="3.6" fill="url(#g_mesa)" fill-opacity="0.85" stroke="#662a26" stroke-width="0.8"/>
<circle cx="746.2" cy="368.7" r="3.6" fill="url(#g_mesa)" fill-opacity="0.85" stroke="#662a26" stroke-width="0.8"/>
<circle cx="753.5" cy="360.9" r="3.6" fill="url(#g_mesa)" fill-opacity="0.85" stroke="#662a26" stroke-width="0.8"/>
<circle cx="760.9" cy="366.0" r="3.6" fill="url(#g_mesa)" fill-opacity="0.85" stroke="#662a26" stroke-width="0.8"/>
<circle cx="768.2" cy="362.5" r="3.6" fill="url(#g_mesa)" fill-opacity="0.85" stroke="#662a26" stroke-width="0.8"/>
<circle cx="775.5" cy="360.2" r="3.6" fill="url(#g_mesa)" fill-opacity="0.85" stroke="#662a26" stroke-width="0.8"/>
<circle cx="782.8" cy="367.9" r="3.6" fill="url(#g_mesa)" fill-opacity="0.85" stroke="#662a26" stroke-width="0.8"/>
<circle cx="790.2" cy="365.8" r="3.6" fill="url(#g_mesa)" fill-opacity="0.85" stroke="#662a26" stroke-width="0.8"/>
<circle cx="797.5" cy="363.7" r="3.6" fill="url(#g_mesa)" fill-opacity="0.85" stroke="#662a26" stroke-width="0.8"/>
<circle cx="804.8" cy="363.5" r="3.6" fill="url(#g_mesa)" fill-opacity="0.85" stroke="#662a26" stroke-width="0.8"/>
<circle cx="812.1" cy="368.2" r="3.6" fill="url(#g_mesa)" fill-opacity="0.85" stroke="#662a26" stroke-width="0.8"/>
<circle cx="819.5" cy="368.4" r="3.6" fill="url(#g_mesa)" fill-opacity="0.85" stroke="#662a26" stroke-width="0.8"/>
<circle cx="826.8" cy="365.8" r="3.6" fill="url(#g_mesa)" fill-opacity="0.85" stroke="#662a26" stroke-width="0.8"/>
<circle cx="834.1" cy="363.5" r="3.6" fill="url(#g_mesa)" fill-opacity="0.85" stroke="#662a26" stroke-width="0.8"/>
<circle cx="841.4" cy="360.5" r="3.6" fill="url(#g_mesa)" fill-opacity="0.85" stroke="#662a26" stroke-width="0.8"/>
<circle cx="848.8" cy="357.6" r="3.6" fill="url(#g_mesa)" fill-opacity="0.85" stroke="#662a26" stroke-width="0.8"/>
<circle cx="856.1" cy="359.9" r="3.6" fill="url(#g_mesa)" fill-opacity="0.85" stroke="#662a26" stroke-width="0.8"/>
<circle cx="863.4" cy="352.8" r="3.6" fill="url(#g_mesa)" fill-opacity="0.85" stroke="#662a26" stroke-width="0.8"/>
<circle cx="870.8" cy="351.1" r="3.6" fill="url(#g_mesa)" fill-opacity="0.85" stroke="#662a26" stroke-width="0.8"/>
<circle cx="878.1" cy="351.7" r="3.6" fill="url(#g_mesa)" fill-opacity="0.85" stroke="#662a26" stroke-width="0.8"/>
<circle cx="885.4" cy="348.3" r="3.6" fill="url(#g_mesa)" fill-opacity="0.85" stroke="#662a26" stroke-width="0.8"/>
<circle cx="892.7" cy="340.7" r="3.6" fill="url(#g_mesa)" fill-opacity="0.85" stroke="#662a26" stroke-width="0.8"/>
<circle cx="900.1" cy="333.5" r="3.6" fill="url(#g_mesa)" fill-opacity="0.85" stroke="#662a26" stroke-width="0.8"/>
<circle cx="907.4" cy="332.7" r="3.6" fill="url(#g_mesa)" fill-opacity="0.85" stroke="#662a26" stroke-width="0.8"/>
<circle cx="914.7" cy="333.8" r="3.6" fill="url(#g_mesa)" fill-opacity="0.85" stroke="#662a26" stroke-width="0.8"/>
<circle cx="922.0" cy="332.7" r="3.6" fill="url(#g_mesa)" fill-opacity="0.85" stroke="#662a26" stroke-width="0.8"/>
<circle cx="929.4" cy="334.9" r="3.6" fill="url(#g_mesa)" fill-opacity="0.85" stroke="#662a26" stroke-width="0.8"/>
<circle cx="936.7" cy="334.4" r="3.6" fill="url(#g_mesa)" fill-opacity="0.85" stroke="#662a26" stroke-width="0.8"/>
<circle cx="944.0" cy="331.6" r="3.6" fill="url(#g_mesa)" fill-opacity="0.85" stroke="#662a26" stroke-width="0.8"/>
<circle cx="951.4" cy="335.3" r="3.6" fill="url(#g_mesa)" fill-opacity="0.85" stroke="#662a26" stroke-width="0.8"/>
<circle cx="958.7" cy="333.8" r="3.6" fill="url(#g_mesa)" fill-opacity="0.85" stroke="#662a26" stroke-width="0.8"/>
<circle cx="966.0" cy="324.0" r="3.6" fill="url(#g_mesa)" fill-opacity="0.85" stroke="#662a26" stroke-width="0.8"/>
<circle cx="973.3" cy="324.0" r="3.6" fill="url(#g_mesa)" fill-opacity="0.85" stroke="#662a26" stroke-width="0.8"/>
<polyline points="204.0,329.6 211.3,333.8 218.7,325.1 226.0,330.8 233.3,327.3 240.6,324.0 248.0,329.3 255.3,327.3 262.6,324.0 269.9,332.6 277.3,342.9 284.6,333.4 291.9,340.9 299.3,336.4 306.6,340.5 313.9,336.4 321.2,339.7 328.6,327.3 335.9,332.6 343.2,331.1 350.5,324.3 357.9,329.2 365.2,337.5 372.5,333.4 379.8,332.2 387.2,332.8 394.5,333.4 401.8,335.7 409.2,337.5 416.5,341.6 423.8,339.8 431.1,337.5 438.5,336.3 445.8,331.6 453.1,334.5 460.4,333.4 467.8,329.3 475.1,335.1 482.4,328.6 489.8,328.6 497.1,328.0 504.4,326.9 511.7,325.1 519.1,322.2 526.4,318.7 533.7,312.2 541.0,311.6 548.4,303.4 555.7,306.9 563.0,311.6 570.4,305.2 577.7,296.4 585.0,299.3 592.3,302.8 599.7,309.3 607.0,308.1 614.3,312.2 621.6,311.6 629.0,315.7 636.3,314.5 643.6,309.3 650.9,302.8 658.3,292.3 665.6,302.2 672.9,300.5 680.3,304.6 687.6,308.1 694.9,311.7 702.2,311.3 709.6,314.6 716.9,314.6 724.2,316.7 731.5,314.6 738.9,316.7 746.2,309.9 753.5,309.9 760.9,306.4 768.2,307.8 775.5,305.2 782.8,305.2 790.2,305.8 797.5,302.9 804.8,308.2 812.1,306.4 819.5,311.1 826.8,310.5 834.1,309.4 841.4,312.9 848.8,313.5 856.1,314.6 863.4,314.6 870.8,315.8 878.1,314.6 885.4,319.2 892.7,323.2 900.1,328.0 907.4,333.7 914.7,335.0 922.0,339.2 929.4,339.6 936.7,338.8 944.0,341.8 951.4,352.7 958.7,357.7 966.0,360.6 973.3,364.3" fill="none" stroke="#1c0c0c" stroke-width="3.1" stroke-linejoin="round"/>
<circle cx="204.0" cy="329.6" r="3.6" fill="url(#g_phoenix)" fill-opacity="0.85" stroke="#3c3434" stroke-width="0.8"/>
<circle cx="211.3" cy="333.8" r="3.6" fill="url(#g_phoenix)" fill-opacity="0.85" stroke="#3c3434" stroke-width="0.8"/>
<circle cx="218.7" cy="325.1" r="3.6" fill="url(#g_phoenix)" fill-opacity="0.85" stroke="#3c3434" stroke-width="0.8"/>
<circle cx="226.0" cy="330.8" r="3.6" fill="url(#g_phoenix)" fill-opacity="0.85" stroke="#3c3434" stroke-width="0.8"/>
<circle cx="233.3" cy="327.3" r="3.6" fill="url(#g_phoenix)" fill-opacity="0.85" stroke="#3c3434" stroke-width="0.8"/>
<circle cx="240.6" cy="324.0" r="3.6" fill="url(#g_phoenix)" fill-opacity="0.85" stroke="#3c3434" stroke-width="0.8"/>
<circle cx="248.0" cy="329.3" r="3.6" fill="url(#g_phoenix)" fill-opacity="0.85" stroke="#3c3434" stroke-width="0.8"/>
<circle cx="255.3" cy="327.3" r="3.6" fill="url(#g_phoenix)" fill-opacity="0.85" stroke="#3c3434" stroke-width="0.8"/>
<circle cx="262.6" cy="324.0" r="3.6" fill="url(#g_phoenix)" fill-opacity="0.85" stroke="#3c3434" stroke-width="0.8"/>
<circle cx="269.9" cy="332.6" r="3.6" fill="url(#g_phoenix)" fill-opacity="0.85" stroke="#3c3434" stroke-width="0.8"/>
<circle cx="277.3" cy="342.9" r="3.6" fill="url(#g_phoenix)" fill-opacity="0.85" stroke="#3c3434" stroke-width="0.8"/>
<circle cx="284.6" cy="333.4" r="3.6" fill="url(#g_phoenix)" fill-opacity="0.85" stroke="#3c3434" stroke-width="0.8"/>
<circle cx="291.9" cy="340.9" r="3.6" fill="url(#g_phoenix)" fill-opacity="0.85" stroke="#3c3434" stroke-width="0.8"/>
<circle cx="299.3" cy="336.4" r="3.6" fill="url(#g_phoenix)" fill-opacity="0.85" stroke="#3c3434" stroke-width="0.8"/>
<circle cx="306.6" cy="340.5" r="3.6" fill="url(#g_phoenix)" fill-opacity="0.85" stroke="#3c3434" stroke-width="0.8"/>
<circle cx="313.9" cy="336.4" r="3.6" fill="url(#g_phoenix)" fill-opacity="0.85" stroke="#3c3434" stroke-width="0.8"/>
<circle cx="321.2" cy="339.7" r="3.6" fill="url(#g_phoenix)" fill-opacity="0.85" stroke="#3c3434" stroke-width="0.8"/>
<circle cx="328.6" cy="327.3" r="3.6" fill="url(#g_phoenix)" fill-opacity="0.85" stroke="#3c3434" stroke-width="0.8"/>
<circle cx="335.9" cy="332.6" r="3.6" fill="url(#g_phoenix)" fill-opacity="0.85" stroke="#3c3434" stroke-width="0.8"/>
<circle cx="343.2" cy="331.1" r="3.6" fill="url(#g_phoenix)" fill-opacity="0.85" stroke="#3c3434" stroke-width="0.8"/>
<circle cx="350.5" cy="324.3" r="3.6" fill="url(#g_phoenix)" fill-opacity="0.85" stroke="#3c3434" stroke-width="0.8"/>
<circle cx="357.9" cy="329.2" r="3.6" fill="url(#g_phoenix)" fill-opacity="0.85" stroke="#3c3434" stroke-width="0.8"/>
<circle cx="365.2" cy="337.5" r="3.6" fill="url(#g_phoenix)" fill-opacity="0.85" stroke="#3c3434" stroke-width="0.8"/>
<circle cx="372.5" cy="333.4" r="3.6" fill="url(#g_phoenix)" fill-opacity="0.85" stroke="#3c3434" stroke-width="0.8"/>
<circle cx="379.8" cy="332.2" r="3.6" fill="url(#g_phoenix)" fill-opacity="0.85" stroke="#3c3434" stroke-width="0.8"/>
<circle cx="387.2" cy="332.8" r="3.6" fill="url(#g_phoenix)" fill-opacity="0.85" stroke="#3c3434" stroke-width="0.8"/>
<circle cx="394.5" cy="333.4" r="3.6" fill="url(#g_phoenix)" fill-opacity="0.85" stroke="#3c3434" stroke-width="0.8"/>
<circle cx="401.8" cy="335.7" r="3.6" fill="url(#g_phoenix)" fill-opacity="0.85" stroke="#3c3434" stroke-width="0.8"/>
<circle cx="409.2" cy="337.5" r="3.6" fill="url(#g_phoenix)" fill-opacity="0.85" stroke="#3c3434" stroke-width="0.8"/>
<circle cx="416.5" cy="341.6" r="3.6" fill="url(#g_phoenix)" fill-opacity="0.85" stroke="#3c3434" stroke-width="0.8"/>
<circle cx="423.8" cy="339.8" r="3.6" fill="url(#g_phoenix)" fill-opacity="0.85" stroke="#3c3434" stroke-width="0.8"/>
<circle cx="431.1" cy="337.5" r="3.6" fill="url(#g_phoenix)" fill-opacity="0.85" stroke="#3c3434" stroke-width="0.8"/>
<circle cx="438.5" cy="336.3" r="3.6" fill="url(#g_phoenix)" fill-opacity="0.85" stroke="#3c3434" stroke-width="0.8"/>
<circle cx="445.8" cy="331.6" r="3.6" fill="url(#g_phoenix)" fill-opacity="0.85" stroke="#3c3434" stroke-width="0.8"/>
<circle cx="453.1" cy="334.5" r="3.6" fill="url(#g_phoenix)" fill-opacity="0.85" stroke="#3c3434" stroke-width="0.8"/>
<circle cx="460.4" cy="333.4" r="3.6" fill="url(#g_phoenix)" fill-opacity="0.85" stroke="#3c3434" stroke-width="0.8"/>
<circle cx="467.8" cy="329.3" r="3.6" fill="url(#g_phoenix)" fill-opacity="0.85" stroke="#3c3434" stroke-width="0.8"/>
<circle cx="475.1" cy="335.1" r="3.6" fill="url(#g_phoenix)" fill-opacity="0.85" stroke="#3c3434" stroke-width="0.8"/>
<circle cx="482.4" cy="328.6" r="3.6" fill="url(#g_phoenix)" fill-opacity="0.85" stroke="#3c3434" stroke-width="0.8"/>
<circle cx="489.8" cy="328.6" r="3.6" fill="url(#g_phoenix)" fill-opacity="0.85" stroke="#3c3434" stroke-width="0.8"/>
<circle cx="497.1" cy="328.0" r="3.6" fill="url(#g_phoenix)" fill-opacity="0.85" stroke="#3c3434" stroke-width="0.8"/>
<circle cx="504.4" cy="326.9" r="3.6" fill="url(#g_phoenix)" fill-opacity="0.85" stroke="#3c3434" stroke-width="0.8"/>
<circle cx="511.7" cy="325.1" r="3.6" fill="url(#g_phoenix)" fill-opacity="0.85" stroke="#3c3434" stroke-width="0.8"/>
<circle cx="519.1" cy="322.2" r="3.6" fill="url(#g_phoenix)" fill-opacity="0.85" stroke="#3c3434" stroke-width="0.8"/>
<circle cx="526.4" cy="318.7" r="3.6" fill="url(#g_phoenix)" fill-opacity="0.85" stroke="#3c3434" stroke-width="0.8"/>
<circle cx="533.7" cy="312.2" r="3.6" fill="url(#g_phoenix)" fill-opacity="0.85" stroke="#3c3434" stroke-width="0.8"/>
<circle cx="541.0" cy="311.6" r="3.6" fill="url(#g_phoenix)" fill-opacity="0.85" stroke="#3c3434" stroke-width="0.8"/>
<circle cx="548.4" cy="303.4" r="3.6" fill="url(#g_phoenix)" fill-opacity="0.85" stroke="#3c3434" stroke-width="0.8"/>
<circle cx="555.7" cy="306.9" r="3.6" fill="url(#g_phoenix)" fill-opacity="0.85" stroke="#3c3434" stroke-width="0.8"/>
<circle cx="563.0" cy="311.6" r="3.6" fill="url(#g_phoenix)" fill-opacity="0.85" stroke="#3c3434" stroke-width="0.8"/>
<circle cx="570.4" cy="305.2" r="3.6" fill="url(#g_phoenix)" fill-opacity="0.85" stroke="#3c3434" stroke-width="0.8"/>
<circle cx="577.7" cy="296.4" r="3.6" fill="url(#g_phoenix)" fill-opacity="0.85" stroke="#3c3434" stroke-width="0.8"/>
<circle cx="585.0" cy="299.3" r="3.6" fill="url(#g_phoenix)" fill-opacity="0.85" stroke="#3c3434" stroke-width="0.8"/>
<circle cx="592.3" cy="302.8" r="3.6" fill="url(#g_phoenix)" fill-opacity="0.85" stroke="#3c3434" stroke-width="0.8"/>
<circle cx="599.7" cy="309.3" r="3.6" fill="url(#g_phoenix)" fill-opacity="0.85" stroke="#3c3434" stroke-width="0.8"/>
<circle cx="607.0" cy="308.1" r="3.6" fill="url(#g_phoenix)" fill-opacity="0.85" stroke="#3c3434" stroke-width="0.8"/>
<circle cx="614.3" cy="312.2" r="3.6" fill="url(#g_phoenix)" fill-opacity="0.85" stroke="#3c3434" stroke-width="0.8"/>
<circle cx="621.6" cy="311.6" r="3.6" fill="url(#g_phoenix)" fill-opacity="0.85" stroke="#3c3434" stroke-width="0.8"/>
<circle cx="629.0" cy="315.7" r="3.6" fill="url(#g_phoenix)" fill-opacity="0.85" stroke="#3c3434" stroke-width="0.8"/>
<circle cx="636.3" cy="314.5" r="3.6" fill="url(#g_phoenix)" fill-opacity="0.85" stroke="#3c3434" stroke-width="0.8"/>
<circle cx="643.6" cy="309.3" r="3.6" fill="url(#g_phoenix)" fill-opacity="0.85" stroke="#3c3434" stroke-width="0.8"/>
<circle cx="650.9" cy="302.8" r="3.6" fill="url(#g_phoenix)" fill-opacity="0.85" stroke="#3c3434" stroke-width="0.8"/>
<circle cx="658.3" cy="292.3" r="3.6" fill="url(#g_phoenix)" fill-opacity="0.85" stroke="#3c3434" stroke-width="0.8"/>
<circle cx="665.6" cy="302.2" r="3.6" fill="url(#g_phoenix)" fill-opacity="0.85" stroke="#3c3434" stroke-width="0.8"/>
<circle cx="672.9" cy="300.5" r="3.6" fill="url(#g_phoenix)" fill-opacity="0.85" stroke="#3c3434" stroke-width="0.8"/>
<circle cx="680.3" cy="304.6" r="3.6" fill="url(#g_phoenix)" fill-opacity="0.85" stroke="#3c3434" stroke-width="0.8"/>
<circle cx="687.6" cy="308.1" r="3.6" fill="url(#g_phoenix)" fill-opacity="0.85" stroke="#3c3434" stroke-width="0.8"/>
<circle cx="694.9" cy="311.7" r="3.6" fill="url(#g_phoenix)" fill-opacity="0.85" stroke="#3c3434" stroke-width="0.8"/>
<circle cx="702.2" cy="311.3" r="3.6" fill="url(#g_phoenix)" fill-opacity="0.85" stroke="#3c3434" stroke-width="0.8"/>
<circle cx="709.6" cy="314.6" r="3.6" fill="url(#g_phoenix)" fill-opacity="0.85" stroke="#3c3434" stroke-width="0.8"/>
<circle cx="716.9" cy="314.6" r="3.6" fill="url(#g_phoenix)" fill-opacity="0.85" stroke="#3c3434" stroke-width="0.8"/>
<circle cx="724.2" cy="316.7" r="3.6" fill="url(#g_phoenix)" fill-opacity="0.85" stroke="#3c3434" stroke-width="0.8"/>
<circle cx="731.5" cy="314.6" r="3.6" fill="url(#g_phoenix)" fill-opacity="0.85" stroke="#3c3434" stroke-width="0.8"/>
<circle cx="738.9" cy="316.7" r="3.6" fill="url(#g_phoenix)" fill-opacity="0.85" stroke="#3c3434" stroke-width="0.8"/>
<circle cx="746.2" cy="309.9" r="3.6" fill="url(#g_phoenix)" fill-opacity="0.85" stroke="#3c3434" stroke-width="0.8"/>
<circle cx="753.5" cy="309.9" r="3.6" fill="url(#g_phoenix)" fill-opacity="0.85" stroke="#3c3434" stroke-width="0.8"/>
<circle cx="760.9" cy="306.4" r="3.6" fill="url(#g_phoenix)" fill-opacity="0.85" stroke="#3c3434" stroke-width="0.8"/>
<circle cx="768.2" cy="307.8" r="3.6" fill="url(#g_phoenix)" fill-opacity="0.85" stroke="#3c3434" stroke-width="0.8"/>
<circle cx="775.5" cy="305.2" r="3.6" fill="url(#g_phoenix)" fill-opacity="0.85" stroke="#3c3434" stroke-width="0.8"/>
<circle cx="782.8" cy="305.2" r="3.6" fill="url(#g_phoenix)" fill-opacity="0.85" stroke="#3c3434" stroke-width="0.8"/>
<circle cx="790.2" cy="305.8" r="3.6" fill="url(#g_phoenix)" fill-opacity="0.85" stroke="#3c3434" stroke-width="0.8"/>
<circle cx="797.5" cy="302.9" r="3.6" fill="url(#g_phoenix)" fill-opacity="0.85" stroke="#3c3434" stroke-width="0.8"/>
<circle cx="804.8" cy="308.2" r="3.6" fill="url(#g_phoenix)" fill-opacity="0.85" stroke="#3c3434" stroke-width="0.8"/>
<circle cx="812.1" cy="306.4" r="3.6" fill="url(#g_phoenix)" fill-opacity="0.85" stroke="#3c3434" stroke-width="0.8"/>
<circle cx="819.5" cy="311.1" r="3.6" fill="url(#g_phoenix)" fill-opacity="0.85" stroke="#3c3434" stroke-width="0.8"/>
<circle cx="826.8" cy="310.5" r="3.6" fill="url(#g_phoenix)" fill-opacity="0.85" stroke="#3c3434" stroke-width="0.8"/>
<circle cx="834.1" cy="309.4" r="3.6" fill="url(#g_phoenix)" fill-opacity="0.85" stroke="#3c3434" stroke-width="0.8"/>
<circle cx="841.4" cy="312.9" r="3.6" fill="url(#g_phoenix)" fill-opacity="0.85" stroke="#3c3434" stroke-width="0.8"/>
<circle cx="848.8" cy="313.5" r="3.6" fill="url(#g_phoenix)" fill-opacity="0.85" stroke="#3c3434" stroke-width="0.8"/>
<circle cx="856.1" cy="314.6" r="3.6" fill="url(#g_phoenix)" fill-opacity="0.85" stroke="#3c3434" stroke-width="0.8"/>
<circle cx="863.4" cy="314.6" r="3.6" fill="url(#g_phoenix)" fill-opacity="0.85" stroke="#3c3434" stroke-width="0.8"/>
<circle cx="870.8" cy="315.8" r="3.6" fill="url(#g_phoenix)" fill-opacity="0.85" stroke="#3c3434" stroke-width="0.8"/>
<circle cx="878.1" cy="314.6" r="3.6" fill="url(#g_phoenix)" fill-opacity="0.85" stroke="#3c3434" stroke-width="0.8"/>
<circle cx="885.4" cy="319.2" r="3.6" fill="url(#g_phoenix)" fill-opacity="0.85" stroke="#3c3434" stroke-width="0.8"/>
<circle cx="892.7" cy="323.2" r="3.6" fill="url(#g_phoenix)" fill-opacity="0.85" stroke="#3c3434" stroke-width="0.8"/>
<circle cx="900.1" cy="328.0" r="3.6" fill="url(#g_phoenix)" fill-opacity="0.85" stroke="#3c3434" stroke-width="0.8"/>
<circle cx="907.4" cy="333.7" r="3.6" fill="url(#g_phoenix)" fill-opacity="0.85" stroke="#3c3434" stroke-width="0.8"/>
<circle cx="914.7" cy="335.0" r="3.6" fill="url(#g_phoenix)" fill-opacity="0.85" stroke="#3c3434" stroke-width="0.8"/>
<circle cx="922.0" cy="339.2" r="3.6" fill="url(#g_phoenix)" fill-opacity="0.85" stroke="#3c3434" stroke-width="0.8"/>
<circle cx="929.4" cy="339.6" r="3.6" fill="url(#g_phoenix)" fill-opacity="0.85" stroke="#3c3434" stroke-width="0.8"/>
<circle cx="936.7" cy="338.8" r="3.6" fill="url(#g_phoenix)" fill-opacity="0.85" stroke="#3c3434" stroke-width="0.8"/>
<circle cx="944.0" cy="341.8" r="3.6" fill="url(#g_phoenix)" fill-opacity="0.85" stroke="#3c3434" stroke-width="0.8"/>
<circle cx="951.4" cy="352.7" r="3.6" fill="url(#g_phoenix)" fill-opacity="0.85" stroke="#3c3434" stroke-width="0.8"/>
<circle cx="958.7" cy="357.7" r="3.6" fill="url(#g_phoenix)" fill-opacity="0.85" stroke="#3c3434" stroke-width="0.8"/>
<circle cx="966.0" cy="360.6" r="3.6" fill="url(#g_phoenix)" fill-opacity="0.85" stroke="#3c3434" stroke-width="0.8"/>
<circle cx="973.3" cy="364.3" r="3.6" fill="url(#g_phoenix)" fill-opacity="0.85" stroke="#3c3434" stroke-width="0.8"/>
<polyline points="204.0,438.8 211.3,439.7 218.7,444.6 226.0,451.3 233.3,458.7 240.6,464.7 248.0,464.7 255.3,460.9 262.6,462.5 269.9,458.4 277.3,472.8 284.6,471.9 291.9,465.2 299.3,469.3 306.6,472.8 313.9,486.3 321.2,490.4 328.6,521.9 335.9,519.0 343.2,519.0 350.5,515.8 357.9,520.0 365.2,520.0 372.5,525.5 379.8,529.2 387.2,527.2 394.5,520.0 401.8,527.0 409.2,515.4 416.5,503.5 423.8,525.4 431.1,529.7 438.5,528.3 445.8,519.5 453.1,514.3 460.4,504.6 467.8,498.7 475.1,494.9 482.4,501.5 489.8,518.9 497.1,520.1 504.4,518.2 511.7,516.6 519.1,500.1 526.4,509.8 533.7,503.0 541.0,498.7 548.4,497.6 555.7,497.6 563.0,507.3 570.4,514.3 577.7,509.2 585.0,518.2 592.3,511.7 599.7,509.8 607.0,506.5 614.3,505.1 621.6,504.5 629.0,524.0 636.3,530.4 643.6,525.0 650.9,525.9 658.3,521.5 665.6,519.5 672.9,531.2 680.3,527.9 687.6,527.9 694.9,525.0 702.2,515.6 709.6,495.8 716.9,493.5 724.2,484.5 731.5,486.5 738.9,479.9 746.2,455.4 753.5,450.7 760.9,445.7 768.2,441.4 775.5,454.0 782.8,449.9 790.2,451.3 797.5,475.2 804.8,483.7 812.1,474.1 819.5,470.7 826.8,468.6 834.1,485.8 841.4,492.5 848.8,502.7 856.1,511.9 863.4,501.3 870.8,505.4 878.1,497.6 885.4,493.5 892.7,491.9 900.1,493.9 907.4,489.5 914.7,489.0 922.0,484.3 929.4,475.2 936.7,478.2 944.0,467.0 951.4,457.2 958.7,464.5 966.0,460.9 973.3,463.3" fill="none" stroke="#c86410" stroke-width="3.1" stroke-linejoin="round"/>
<circle cx="204.0" cy="438.8" r="3.6" fill="url(#g_scottsdale)" fill-opacity="0.85" stroke="#8a5424" stroke-width="0.8"/>
<circle cx="211.3" cy="439.7" r="3.6" fill="url(#g_scottsdale)" fill-opacity="0.85" stroke="#8a5424" stroke-width="0.8"/>
<circle cx="218.7" cy="444.6" r="3.6" fill="url(#g_scottsdale)" fill-opacity="0.85" stroke="#8a5424" stroke-width="0.8"/>
<circle cx="226.0" cy="451.3" r="3.6" fill="url(#g_scottsdale)" fill-opacity="0.85" stroke="#8a5424" stroke-width="0.8"/>
<circle cx="233.3" cy="458.7" r="3.6" fill="url(#g_scottsdale)" fill-opacity="0.85" stroke="#8a5424" stroke-width="0.8"/>
<circle cx="240.6" cy="464.7" r="3.6" fill="url(#g_scottsdale)" fill-opacity="0.85" stroke="#8a5424" stroke-width="0.8"/>
<circle cx="248.0" cy="464.7" r="3.6" fill="url(#g_scottsdale)" fill-opacity="0.85" stroke="#8a5424" stroke-width="0.8"/>
<circle cx="255.3" cy="460.9" r="3.6" fill="url(#g_scottsdale)" fill-opacity="0.85" stroke="#8a5424" stroke-width="0.8"/>
<circle cx="262.6" cy="462.5" r="3.6" fill="url(#g_scottsdale)" fill-opacity="0.85" stroke="#8a5424" stroke-width="0.8"/>
<circle cx="269.9" cy="458.4" r="3.6" fill="url(#g_scottsdale)" fill-opacity="0.85" stroke="#8a5424" stroke-width="0.8"/>
<circle cx="277.3" cy="472.8" r="3.6" fill="url(#g_scottsdale)" fill-opacity="0.85" stroke="#8a5424" stroke-width="0.8"/>
<circle cx="284.6" cy="471.9" r="3.6" fill="url(#g_scottsdale)" fill-opacity="0.85" stroke="#8a5424" stroke-width="0.8"/>
<circle cx="291.9" cy="465.2" r="3.6" fill="url(#g_scottsdale)" fill-opacity="0.85" stroke="#8a5424" stroke-width="0.8"/>
<circle cx="299.3" cy="469.3" r="3.6" fill="url(#g_scottsdale)" fill-opacity="0.85" stroke="#8a5424" stroke-width="0.8"/>
<circle cx="306.6" cy="472.8" r="3.6" fill="url(#g_scottsdale)" fill-opacity="0.85" stroke="#8a5424" stroke-width="0.8"/>
<circle cx="313.9" cy="486.3" r="3.6" fill="url(#g_scottsdale)" fill-opacity="0.85" stroke="#8a5424" stroke-width="0.8"/>
<circle cx="321.2" cy="490.4" r="3.6" fill="url(#g_scottsdale)" fill-opacity="0.85" stroke="#8a5424" stroke-width="0.8"/>
<circle cx="328.6" cy="521.9" r="3.6" fill="url(#g_scottsdale)" fill-opacity="0.85" stroke="#8a5424" stroke-width="0.8"/>
<circle cx="335.9" cy="519.0" r="3.6" fill="url(#g_scottsdale)" fill-opacity="0.85" stroke="#8a5424" stroke-width="0.8"/>
<circle cx="343.2" cy="519.0" r="3.6" fill="url(#g_scottsdale)" fill-opacity="0.85" stroke="#8a5424" stroke-width="0.8"/>
<circle cx="350.5" cy="515.8" r="3.6" fill="url(#g_scottsdale)" fill-opacity="0.85" stroke="#8a5424" stroke-width="0.8"/>
<circle cx="357.9" cy="520.0" r="3.6" fill="url(#g_scottsdale)" fill-opacity="0.85" stroke="#8a5424" stroke-width="0.8"/>
<circle cx="365.2" cy="520.0" r="3.6" fill="url(#g_scottsdale)" fill-opacity="0.85" stroke="#8a5424" stroke-width="0.8"/>
<circle cx="372.5" cy="525.5" r="3.6" fill="url(#g_scottsdale)" fill-opacity="0.85" stroke="#8a5424" stroke-width="0.8"/>
<circle cx="379.8" cy="529.2" r="3.6" fill="url(#g_scottsdale)" fill-opacity="0.85" stroke="#8a5424" stroke-width="0.8"/>
<circle cx="387.2" cy="527.2" r="3.6" fill="url(#g_scottsdale)" fill-opacity="0.85" stroke="#8a5424" stroke-width="0.8"/>
<circle cx="394.5" cy="520.0" r="3.6" fill="url(#g_scottsdale)" fill-opacity="0.85" stroke="#8a5424" stroke-width="0.8"/>
<circle cx="401.8" cy="527.0" r="3.6" fill="url(#g_scottsdale)" fill-opacity="0.85" stroke="#8a5424" stroke-width="0.8"/>
<circle cx="409.2" cy="515.4" r="3.6" fill="url(#g_scottsdale)" fill-opacity="0.85" stroke="#8a5424" stroke-width="0.8"/>
<circle cx="416.5" cy="503.5" r="3.6" fill="url(#g_scottsdale)" fill-opacity="0.85" stroke="#8a5424" stroke-width="0.8"/>
<circle cx="423.8" cy="525.4" r="3.6" fill="url(#g_scottsdale)" fill-opacity="0.85" stroke="#8a5424" stroke-width="0.8"/>
<circle cx="431.1" cy="529.7" r="3.6" fill="url(#g_scottsdale)" fill-opacity="0.85" stroke="#8a5424" stroke-width="0.8"/>
<circle cx="438.5" cy="528.3" r="3.6" fill="url(#g_scottsdale)" fill-opacity="0.85" stroke="#8a5424" stroke-width="0.8"/>
<circle cx="445.8" cy="519.5" r="3.6" fill="url(#g_scottsdale)" fill-opacity="0.85" stroke="#8a5424" stroke-width="0.8"/>
<circle cx="453.1" cy="514.3" r="3.6" fill="url(#g_scottsdale)" fill-opacity="0.85" stroke="#8a5424" stroke-width="0.8"/>
<circle cx="460.4" cy="504.6" r="3.6" fill="url(#g_scottsdale)" fill-opacity="0.85" stroke="#8a5424" stroke-width="0.8"/>
<circle cx="467.8" cy="498.7" r="3.6" fill="url(#g_scottsdale)" fill-opacity="0.85" stroke="#8a5424" stroke-width="0.8"/>
<circle cx="475.1" cy="494.9" r="3.6" fill="url(#g_scottsdale)" fill-opacity="0.85" stroke="#8a5424" stroke-width="0.8"/>
<circle cx="482.4" cy="501.5" r="3.6" fill="url(#g_scottsdale)" fill-opacity="0.85" stroke="#8a5424" stroke-width="0.8"/>
<circle cx="489.8" cy="518.9" r="3.6" fill="url(#g_scottsdale)" fill-opacity="0.85" stroke="#8a5424" stroke-width="0.8"/>
<circle cx="497.1" cy="520.1" r="3.6" fill="url(#g_scottsdale)" fill-opacity="0.85" stroke="#8a5424" stroke-width="0.8"/>
<circle cx="504.4" cy="518.2" r="3.6" fill="url(#g_scottsdale)" fill-opacity="0.85" stroke="#8a5424" stroke-width="0.8"/>
<circle cx="511.7" cy="516.6" r="3.6" fill="url(#g_scottsdale)" fill-opacity="0.85" stroke="#8a5424" stroke-width="0.8"/>
<circle cx="519.1" cy="500.1" r="3.6" fill="url(#g_scottsdale)" fill-opacity="0.85" stroke="#8a5424" stroke-width="0.8"/>
<circle cx="526.4" cy="509.8" r="3.6" fill="url(#g_scottsdale)" fill-opacity="0.85" stroke="#8a5424" stroke-width="0.8"/>
<circle cx="533.7" cy="503.0" r="3.6" fill="url(#g_scottsdale)" fill-opacity="0.85" stroke="#8a5424" stroke-width="0.8"/>
<circle cx="541.0" cy="498.7" r="3.6" fill="url(#g_scottsdale)" fill-opacity="0.85" stroke="#8a5424" stroke-width="0.8"/>
<circle cx="548.4" cy="497.6" r="3.6" fill="url(#g_scottsdale)" fill-opacity="0.85" stroke="#8a5424" stroke-width="0.8"/>
<circle cx="555.7" cy="497.6" r="3.6" fill="url(#g_scottsdale)" fill-opacity="0.85" stroke="#8a5424" stroke-width="0.8"/>
<circle cx="563.0" cy="507.3" r="3.6" fill="url(#g_scottsdale)" fill-opacity="0.85" stroke="#8a5424" stroke-width="0.8"/>
<circle cx="570.4" cy="514.3" r="3.6" fill="url(#g_scottsdale)" fill-opacity="0.85" stroke="#8a5424" stroke-width="0.8"/>
<circle cx="577.7" cy="509.2" r="3.6" fill="url(#g_scottsdale)" fill-opacity="0.85" stroke="#8a5424" stroke-width="0.8"/>
<circle cx="585.0" cy="518.2" r="3.6" fill="url(#g_scottsdale)" fill-opacity="0.85" stroke="#8a5424" stroke-width="0.8"/>
<circle cx="592.3" cy="511.7" r="3.6" fill="url(#g_scottsdale)" fill-opacity="0.85" stroke="#8a5424" stroke-width="0.8"/>
<circle cx="599.7" cy="509.8" r="3.6" fill="url(#g_scottsdale)" fill-opacity="0.85" stroke="#8a5424" stroke-width="0.8"/>
<circle cx="607.0" cy="506.5" r="3.6" fill="url(#g_scottsdale)" fill-opacity="0.85" stroke="#8a5424" stroke-width="0.8"/>
<circle cx="614.3" cy="505.1" r="3.6" fill="url(#g_scottsdale)" fill-opacity="0.85" stroke="#8a5424" stroke-width="0.8"/>
<circle cx="621.6" cy="504.5" r="3.6" fill="url(#g_scottsdale)" fill-opacity="0.85" stroke="#8a5424" stroke-width="0.8"/>
<circle cx="629.0" cy="524.0" r="3.6" fill="url(#g_scottsdale)" fill-opacity="0.85" stroke="#8a5424" stroke-width="0.8"/>
<circle cx="636.3" cy="530.4" r="3.6" fill="url(#g_scottsdale)" fill-opacity="0.85" stroke="#8a5424" stroke-width="0.8"/>
<circle cx="643.6" cy="525.0" r="3.6" fill="url(#g_scottsdale)" fill-opacity="0.85" stroke="#8a5424" stroke-width="0.8"/>
<circle cx="650.9" cy="525.9" r="3.6" fill="url(#g_scottsdale)" fill-opacity="0.85" stroke="#8a5424" stroke-width="0.8"/>
<circle cx="658.3" cy="521.5" r="3.6" fill="url(#g_scottsdale)" fill-opacity="0.85" stroke="#8a5424" stroke-width="0.8"/>
<circle cx="665.6" cy="519.5" r="3.6" fill="url(#g_scottsdale)" fill-opacity="0.85" stroke="#8a5424" stroke-width="0.8"/>
<circle cx="672.9" cy="531.2" r="3.6" fill="url(#g_scottsdale)" fill-opacity="0.85" stroke="#8a5424" stroke-width="0.8"/>
<circle cx="680.3" cy="527.9" r="3.6" fill="url(#g_scottsdale)" fill-opacity="0.85" stroke="#8a5424" stroke-width="0.8"/>
<circle cx="687.6" cy="527.9" r="3.6" fill="url(#g_scottsdale)" fill-opacity="0.85" stroke="#8a5424" stroke-width="0.8"/>
<circle cx="694.9" cy="525.0" r="3.6" fill="url(#g_scottsdale)" fill-opacity="0.85" stroke="#8a5424" stroke-width="0.8"/>
<circle cx="702.2" cy="515.6" r="3.6" fill="url(#g_scottsdale)" fill-opacity="0.85" stroke="#8a5424" stroke-width="0.8"/>
<circle cx="709.6" cy="495.8" r="3.6" fill="url(#g_scottsdale)" fill-opacity="0.85" stroke="#8a5424" stroke-width="0.8"/>
<circle cx="716.9" cy="493.5" r="3.6" fill="url(#g_scottsdale)" fill-opacity="0.85" stroke="#8a5424" stroke-width="0.8"/>
<circle cx="724.2" cy="484.5" r="3.6" fill="url(#g_scottsdale)" fill-opacity="0.85" stroke="#8a5424" stroke-width="0.8"/>
<circle cx="731.5" cy="486.5" r="3.6" fill="url(#g_scottsdale)" fill-opacity="0.85" stroke="#8a5424" stroke-width="0.8"/>
<circle cx="738.9" cy="479.9" r="3.6" fill="url(#g_scottsdale)" fill-opacity="0.85" stroke="#8a5424" stroke-width="0.8"/>
<circle cx="746.2" cy="455.4" r="3.6" fill="url(#g_scottsdale)" fill-opacity="0.85" stroke="#8a5424" stroke-width="0.8"/>
<circle cx="753.5" cy="450.7" r="3.6" fill="url(#g_scottsdale)" fill-opacity="0.85" stroke="#8a5424" stroke-width="0.8"/>
<circle cx="760.9" cy="445.7" r="3.6" fill="url(#g_scottsdale)" fill-opacity="0.85" stroke="#8a5424" stroke-width="0.8"/>
<circle cx="768.2" cy="441.4" r="3.6" fill="url(#g_scottsdale)" fill-opacity="0.85" stroke="#8a5424" stroke-width="0.8"/>
<circle cx="775.5" cy="454.0" r="3.6" fill="url(#g_scottsdale)" fill-opacity="0.85" stroke="#8a5424" stroke-width="0.8"/>
<circle cx="782.8" cy="449.9" r="3.6" fill="url(#g_scottsdale)" fill-opacity="0.85" stroke="#8a5424" stroke-width="0.8"/>
<circle cx="790.2" cy="451.3" r="3.6" fill="url(#g_scottsdale)" fill-opacity="0.85" stroke="#8a5424" stroke-width="0.8"/>
<circle cx="797.5" cy="475.2" r="3.6" fill="url(#g_scottsdale)" fill-opacity="0.85" stroke="#8a5424" stroke-width="0.8"/>
<circle cx="804.8" cy="483.7" r="3.6" fill="url(#g_scottsdale)" fill-opacity="0.85" stroke="#8a5424" stroke-width="0.8"/>
<circle cx="812.1" cy="474.1" r="3.6" fill="url(#g_scottsdale)" fill-opacity="0.85" stroke="#8a5424" stroke-width="0.8"/>
<circle cx="819.5" cy="470.7" r="3.6" fill="url(#g_scottsdale)" fill-opacity="0.85" stroke="#8a5424" stroke-width="0.8"/>
<circle cx="826.8" cy="468.6" r="3.6" fill="url(#g_scottsdale)" fill-opacity="0.85" stroke="#8a5424" stroke-width="0.8"/>
<circle cx="834.1" cy="485.8" r="3.6" fill="url(#g_scottsdale)" fill-opacity="0.85" stroke="#8a5424" stroke-width="0.8"/>
<circle cx="841.4" cy="492.5" r="3.6" fill="url(#g_scottsdale)" fill-opacity="0.85" stroke="#8a5424" stroke-width="0.8"/>
<circle cx="848.8" cy="502.7" r="3.6" fill="url(#g_scottsdale)" fill-opacity="0.85" stroke="#8a5424" stroke-width="0.8"/>
<circle cx="856.1" cy="511.9" r="3.6" fill="url(#g_scottsdale)" fill-opacity="0.85" stroke="#8a5424" stroke-width="0.8"/>
<circle cx="863.4" cy="501.3" r="3.6" fill="url(#g_scottsdale)" fill-opacity="0.85" stroke="#8a5424" stroke-width="0.8"/>
<circle cx="870.8" cy="505.4" r="3.6" fill="url(#g_scottsdale)" fill-opacity="0.85" stroke="#8a5424" stroke-width="0.8"/>
<circle cx="878.1" cy="497.6" r="3.6" fill="url(#g_scottsdale)" fill-opacity="0.85" stroke="#8a5424" stroke-width="0.8"/>
<circle cx="885.4" cy="493.5" r="3.6" fill="url(#g_scottsdale)" fill-opacity="0.85" stroke="#8a5424" stroke-width="0.8"/>
<circle cx="892.7" cy="491.9" r="3.6" fill="url(#g_scottsdale)" fill-opacity="0.85" stroke="#8a5424" stroke-width="0.8"/>
<circle cx="900.1" cy="493.9" r="3.6" fill="url(#g_scottsdale)" fill-opacity="0.85" stroke="#8a5424" stroke-width="0.8"/>
<circle cx="907.4" cy="489.5" r="3.6" fill="url(#g_scottsdale)" fill-opacity="0.85" stroke="#8a5424" stroke-width="0.8"/>
<circle cx="914.7" cy="489.0" r="3.6" fill="url(#g_scottsdale)" fill-opacity="0.85" stroke="#8a5424" stroke-width="0.8"/>
<circle cx="922.0" cy="484.3" r="3.6" fill="url(#g_scottsdale)" fill-opacity="0.85" stroke="#8a5424" stroke-width="0.8"/>
<circle cx="929.4" cy="475.2" r="3.6" fill="url(#g_scottsdale)" fill-opacity="0.85" stroke="#8a5424" stroke-width="0.8"/>
<circle cx="936.7" cy="478.2" r="3.6" fill="url(#g_scottsdale)" fill-opacity="0.85" stroke="#8a5424" stroke-width="0.8"/>
<circle cx="944.0" cy="467.0" r="3.6" fill="url(#g_scottsdale)" fill-opacity="0.85" stroke="#8a5424" stroke-width="0.8"/>
<circle cx="951.4" cy="457.2" r="3.6" fill="url(#g_scottsdale)" fill-opacity="0.85" stroke="#8a5424" stroke-width="0.8"/>
<circle cx="958.7" cy="464.5" r="3.6" fill="url(#g_scottsdale)" fill-opacity="0.85" stroke="#8a5424" stroke-width="0.8"/>
<circle cx="966.0" cy="460.9" r="3.6" fill="url(#g_scottsdale)" fill-opacity="0.85" stroke="#8a5424" stroke-width="0.8"/>
<circle cx="973.3" cy="463.3" r="3.6" fill="url(#g_scottsdale)" fill-opacity="0.85" stroke="#8a5424" stroke-width="0.8"/>
<polyline points="204.0,400.9 211.3,418.5 218.7,407.2 226.0,401.8 233.3,399.2 240.6,400.3 248.0,402.1 255.3,398.2 262.6,408.7 269.9,406.6 277.3,393.5 284.6,377.7 291.9,377.7 299.3,394.8 306.6,398.4 313.9,394.3 321.2,391.1 328.6,395.2 335.9,389.9 343.2,370.9 350.5,355.4 357.9,350.5 365.2,343.8 372.5,342.6 379.8,347.5 387.2,342.3 394.5,349.3 401.8,343.3 409.2,342.6 416.5,343.8 423.8,345.7 431.1,341.7 438.5,346.2 445.8,338.2 453.1,337.5 460.4,330.4 467.8,320.5 475.1,316.0 482.4,317.5 489.8,316.9 497.1,320.4 504.4,300.5 511.7,305.7 519.1,315.1 526.4,306.3 533.7,301.1 541.0,306.3 548.4,290.5 555.7,284.0 563.0,290.7 570.4,302.8 577.7,277.6 585.0,284.0 592.3,291.1 599.7,290.5 607.0,297.5 614.3,303.4 621.6,306.9 629.0,308.1 636.3,306.9 643.6,307.5 650.9,309.3 658.3,314.5 665.6,323.3 672.9,321.0 680.3,308.1 687.6,315.1 694.9,320.3 702.2,324.0 709.6,322.3 716.9,321.7 724.2,333.6 731.5,342.2 738.9,342.8 746.2,351.6 753.5,350.1 760.9,347.5 768.2,349.8 775.5,344.5 782.8,351.0 790.2,353.9 797.5,346.1 804.8,347.7 812.1,348.8 819.5,345.3 826.8,352.3 834.1,359.9 841.4,361.1 848.8,369.3 856.1,366.4 863.4,366.7 870.8,368.2 878.1,374.6 885.4,371.7 892.7,377.7 900.1,363.5 907.4,368.2 914.7,367.7 922.0,361.7 929.4,375.2 936.7,385.7 944.0,378.7 951.4,370.2 958.7,407.4 966.0,418.0 973.3,415.0" fill="none" stroke="#e014e0" stroke-width="3.1" stroke-linejoin="round"/>
<circle cx="204.0" cy="400.9" r="3.6" fill="url(#g_tempe)" fill-opacity="0.85" stroke="#902890" stroke-width="0.8"/>
<circle cx="211.3" cy="418.5" r="3.6" fill="url(#g_tempe)" fill-opacity="0.85" stroke="#902890" stroke-width="0.8"/>
<circle cx="218.7" cy="407.2" r="3.6" fill="url(#g_tempe)" fill-opacity="0.85" stroke="#902890" stroke-width="0.8"/>
<circle cx="226.0" cy="401.8" r="3.6" fill="url(#g_tempe)" fill-opacity="0.85" stroke="#902890" stroke-width="0.8"/>
<circle cx="233.3" cy="399.2" r="3.6" fill="url(#g_tempe)" fill-opacity="0.85" stroke="#902890" stroke-width="0.8"/>
<circle cx="240.6" cy="400.3" r="3.6" fill="url(#g_tempe)" fill-opacity="0.85" stroke="#902890" stroke-width="0.8"/>
<circle cx="248.0" cy="402.1" r="3.6" fill="url(#g_tempe)" fill-opacity="0.85" stroke="#902890" stroke-width="0.8"/>
<circle cx="255.3" cy="398.2" r="3.6" fill="url(#g_tempe)" fill-opacity="0.85" stroke="#902890" stroke-width="0.8"/>
<circle cx="262.6" cy="408.7" r="3.6" fill="url(#g_tempe)" fill-opacity="0.85" stroke="#902890" stroke-width="0.8"/>
<circle cx="269.9" cy="406.6" r="3.6" fill="url(#g_tempe)" fill-opacity="0.85" stroke="#902890" stroke-width="0.8"/>
<circle cx="277.3" cy="393.5" r="3.6" fill="url(#g_tempe)" fill-opacity="0.85" stroke="#902890" stroke-width="0.8"/>
<circle cx="284.6" cy="377.7" r="3.6" fill="url(#g_tempe)" fill-opacity="0.85" stroke="#902890" stroke-width="0.8"/>
<circle cx="291.9" cy="377.7" r="3.6" fill="url(#g_tempe)" fill-opacity="0.85" stroke="#902890" stroke-width="0.8"/>
<circle cx="299.3" cy="394.8" r="3.6" fill="url(#g_tempe)" fill-opacity="0.85" stroke="#902890" stroke-width="0.8"/>
<circle cx="306.6" cy="398.4" r="3.6" fill="url(#g_tempe)" fill-opacity="0.85" stroke="#902890" stroke-width="0.8"/>
<circle cx="313.9" cy="394.3" r="3.6" fill="url(#g_tempe)" fill-opacity="0.85" stroke="#902890" stroke-width="0.8"/>
<circle cx="321.2" cy="391.1" r="3.6" fill="url(#g_tempe)" fill-opacity="0.85" stroke="#902890" stroke-width="0.8"/>
<circle cx="328.6" cy="395.2" r="3.6" fill="url(#g_tempe)" fill-opacity="0.85" stroke="#902890" stroke-width="0.8"/>
<circle cx="335.9" cy="389.9" r="3.6" fill="url(#g_tempe)" fill-opacity="0.85" stroke="#902890" stroke-width="0.8"/>
<circle cx="343.2" cy="370.9" r="3.6" fill="url(#g_tempe)" fill-opacity="0.85" stroke="#902890" stroke-width="0.8"/>
<circle cx="350.5" cy="355.4" r="3.6" fill="url(#g_tempe)" fill-opacity="0.85" stroke="#902890" stroke-width="0.8"/>
<circle cx="357.9" cy="350.5" r="3.6" fill="url(#g_tempe)" fill-opacity="0.85" stroke="#902890" stroke-width="0.8"/>
<circle cx="365.2" cy="343.8" r="3.6" fill="url(#g_tempe)" fill-opacity="0.85" stroke="#902890" stroke-width="0.8"/>
<circle cx="372.5" cy="342.6" r="3.6" fill="url(#g_tempe)" fill-opacity="0.85" stroke="#902890" stroke-width="0.8"/>
<circle cx="379.8" cy="347.5" r="3.6" fill="url(#g_tempe)" fill-opacity="0.85" stroke="#902890" stroke-width="0.8"/>
<circle cx="387.2" cy="342.3" r="3.6" fill="url(#g_tempe)" fill-opacity="0.85" stroke="#902890" stroke-width="0.8"/>
<circle cx="394.5" cy="349.3" r="3.6" fill="url(#g_tempe)" fill-opacity="0.85" stroke="#902890" stroke-width="0.8"/>
<circle cx="401.8" cy="343.3" r="3.6" fill="url(#g_tempe)" fill-opacity="0.85" stroke="#902890" stroke-width="0.8"/>
<circle cx="409.2" cy="342.6" r="3.6" fill="url(#g_tempe)" fill-opacity="0.85" stroke="#902890" stroke-width="0.8"/>
<circle cx="416.5" cy="343.8" r="3.6" fill="url(#g_tempe)" fill-opacity="0.85" stroke="#902890" stroke-width="0.8"/>
<circle cx="423.8" cy="345.7" r="3.6" fill="url(#g_tempe)" fill-opacity="0.85" stroke="#902890" stroke-width="0.8"/>
<circle cx="431.1" cy="341.7" r="3.6" fill="url(#g_tempe)" fill-opacity="0.85" stroke="#902890" stroke-width="0.8"/>
<circle cx="438.5" cy="346.2" r="3.6" fill="url(#g_tempe)" fill-opacity="0.85" stroke="#902890" stroke-width="0.8"/>
<circle cx="445.8" cy="338.2" r="3.6" fill="url(#g_tempe)" fill-opacity="0.85" stroke="#902890" stroke-width="0.8"/>
<circle cx="453.1" cy="337.5" r="3.6" fill="url(#g_tempe)" fill-opacity="0.85" stroke="#902890" stroke-width="0.8"/>
<circle cx="460.4" cy="330.4" r="3.6" fill="url(#g_tempe)" fill-opacity="0.85" stroke="#902890" stroke-width="0.8"/>
<circle cx="467.8" cy="320.5" r="3.6" fill="url(#g_tempe)" fill-opacity="0.85" stroke="#902890" stroke-width="0.8"/>
<circle cx="475.1" cy="316.0" r="3.6" fill="url(#g_tempe)" fill-opacity="0.85" stroke="#902890" stroke-width="0.8"/>
<circle cx="482.4" cy="317.5" r="3.6" fill="url(#g_tempe)" fill-opacity="0.85" stroke="#902890" stroke-width="0.8"/>
<circle cx="489.8" cy="316.9" r="3.6" fill="url(#g_tempe)" fill-opacity="0.85" stroke="#902890" stroke-width="0.8"/>
<circle cx="497.1" cy="320.4" r="3.6" fill="url(#g_tempe)" fill-opacity="0.85" stroke="#902890" stroke-width="0.8"/>
<circle cx="504.4" cy="300.5" r="3.6" fill="url(#g_tempe)" fill-opacity="0.85" stroke="#902890" stroke-width="0.8"/>
<circle cx="511.7" cy="305.7" r="3.6" fill="url(#g_tempe)" fill-opacity="0.85" stroke="#902890" stroke-width="0.8"/>
<circle cx="519.1" cy="315.1" r="3.6" fill="url(#g_tempe)" fill-opacity="0.85" stroke="#902890" stroke-width="0.8"/>
<circle cx="526.4" cy="306.3" r="3.6" fill="url(#g_tempe)" fill-opacity="0.85" stroke="#902890" stroke-width="0.8"/>
<circle cx="533.7" cy="301.1" r="3.6" fill="url(#g_tempe)" fill-opacity="0.85" stroke="#902890" stroke-width="0.8"/>
<circle cx="541.0" cy="306.3" r="3.6" fill="url(#g_tempe)" fill-opacity="0.85" stroke="#902890" stroke-width="0.8"/>
<circle cx="548.4" cy="290.5" r="3.6" fill="url(#g_tempe)" fill-opacity="0.85" stroke="#902890" stroke-width="0.8"/>
<circle cx="555.7" cy="284.0" r="3.6" fill="url(#g_tempe)" fill-opacity="0.85" stroke="#902890" stroke-width="0.8"/>
<circle cx="563.0" cy="290.7" r="3.6" fill="url(#g_tempe)" fill-opacity="0.85" stroke="#902890" stroke-width="0.8"/>
<circle cx="570.4" cy="302.8" r="3.6" fill="url(#g_tempe)" fill-opacity="0.85" stroke="#902890" stroke-width="0.8"/>
<circle cx="577.7" cy="277.6" r="3.6" fill="url(#g_tempe)" fill-opacity="0.85" stroke="#902890" stroke-width="0.8"/>
<circle cx="585.0" cy="284.0" r="3.6" fill="url(#g_tempe)" fill-opacity="0.85" stroke="#902890" stroke-width="0.8"/>
<circle cx="592.3" cy="291.1" r="3.6" fill="url(#g_tempe)" fill-opacity="0.85" stroke="#902890" stroke-width="0.8"/>
<circle cx="599.7" cy="290.5" r="3.6" fill="url(#g_tempe)" fill-opacity="0.85" stroke="#902890" stroke-width="0.8"/>
<circle cx="607.0" cy="297.5" r="3.6" fill="url(#g_tempe)" fill-opacity="0.85" stroke="#902890" stroke-width="0.8"/>
<circle cx="614.3" cy="303.4" r="3.6" fill="url(#g_tempe)" fill-opacity="0.85" stroke="#902890" stroke-width="0.8"/>
<circle cx="621.6" cy="306.9" r="3.6" fill="url(#g_tempe)" fill-opacity="0.85" stroke="#902890" stroke-width="0.8"/>
<circle cx="629.0" cy="308.1" r="3.6" fill="url(#g_tempe)" fill-opacity="0.85" stroke="#902890" stroke-width="0.8"/>
<circle cx="636.3" cy="306.9" r="3.6" fill="url(#g_tempe)" fill-opacity="0.85" stroke="#902890" stroke-width="0.8"/>
<circle cx="643.6" cy="307.5" r="3.6" fill="url(#g_tempe)" fill-opacity="0.85" stroke="#902890" stroke-width="0.8"/>
<circle cx="650.9" cy="309.3" r="3.6" fill="url(#g_tempe)" fill-opacity="0.85" stroke="#902890" stroke-width="0.8"/>
<circle cx="658.3" cy="314.5" r="3.6" fill="url(#g_tempe)" fill-opacity="0.85" stroke="#902890" stroke-width="0.8"/>
<circle cx="665.6" cy="323.3" r="3.6" fill="url(#g_tempe)" fill-opacity="0.85" stroke="#902890" stroke-width="0.8"/>
<circle cx="672.9" cy="321.0" r="3.6" fill="url(#g_tempe)" fill-opacity="0.85" stroke="#902890" stroke-width="0.8"/>
<circle cx="680.3" cy="308.1" r="3.6" fill="url(#g_tempe)" fill-opacity="0.85" stroke="#902890" stroke-width="0.8"/>
<circle cx="687.6" cy="315.1" r="3.6" fill="url(#g_tempe)" fill-opacity="0.85" stroke="#902890" stroke-width="0.8"/>
<circle cx="694.9" cy="320.3" r="3.6" fill="url(#g_tempe)" fill-opacity="0.85" stroke="#902890" stroke-width="0.8"/>
<circle cx="702.2" cy="324.0" r="3.6" fill="url(#g_tempe)" fill-opacity="0.85" stroke="#902890" stroke-width="0.8"/>
<circle cx="709.6" cy="322.3" r="3.6" fill="url(#g_tempe)" fill-opacity="0.85" stroke="#902890" stroke-width="0.8"/>
<circle cx="716.9" cy="321.7" r="3.6" fill="url(#g_tempe)" fill-opacity="0.85" stroke="#902890" stroke-width="0.8"/>
<circle cx="724.2" cy="333.6" r="3.6" fill="url(#g_tempe)" fill-opacity="0.85" stroke="#902890" stroke-width="0.8"/>
<circle cx="731.5" cy="342.2" r="3.6" fill="url(#g_tempe)" fill-opacity="0.85" stroke="#902890" stroke-width="0.8"/>
<circle cx="738.9" cy="342.8" r="3.6" fill="url(#g_tempe)" fill-opacity="0.85" stroke="#902890" stroke-width="0.8"/>
<circle cx="746.2" cy="351.6" r="3.6" fill="url(#g_tempe)" fill-opacity="0.85" stroke="#902890" stroke-width="0.8"/>
<circle cx="753.5" cy="350.1" r="3.6" fill="url(#g_tempe)" fill-opacity="0.85" stroke="#902890" stroke-width="0.8"/>
<circle cx="760.9" cy="347.5" r="3.6" fill="url(#g_tempe)" fill-opacity="0.85" stroke="#902890" stroke-width="0.8"/>
<circle cx="768.2" cy="349.8" r="3.6" fill="url(#g_tempe)" fill-opacity="0.85" stroke="#902890" stroke-width="0.8"/>
<circle cx="775.5" cy="344.5" r="3.6" fill="url(#g_tempe)" fill-opacity="0.85" stroke="#902890" stroke-width="0.8"/>
<circle cx="782.8" cy="351.0" r="3.6" fill="url(#g_tempe)" fill-opacity="0.85" stroke="#902890" stroke-width="0.8"/>
<circle cx="790.2" cy="353.9" r="3.6" fill="url(#g_tempe)" fill-opacity="0.85" stroke="#902890" stroke-width="0.8"/>
<circle cx="797.5" cy="346.1" r="3.6" fill="url(#g_tempe)" fill-opacity="0.85" stroke="#902890" stroke-width="0.8"/>
<circle cx="804.8" cy="347.7" r="3.6" fill="url(#g_tempe)" fill-opacity="0.85" stroke="#902890" stroke-width="0.8"/>
<circle cx="812.1" cy="348.8" r="3.6" fill="url(#g_tempe)" fill-opacity="0.85" stroke="#902890" stroke-width="0.8"/>
<circle cx="819.5" cy="345.3" r="3.6" fill="url(#g_tempe)" fill-opacity="0.85" stroke="#902890" stroke-width="0.8"/>
<circle cx="826.8" cy="352.3" r="3.6" fill="url(#g_tempe)" fill-opacity="0.85" stroke="#902890" stroke-width="0.8"/>
<circle cx="834.1" cy="359.9" r="3.6" fill="url(#g_tempe)" fill-opacity="0.85" stroke="#902890" stroke-width="0.8"/>
<circle cx="841.4" cy="361.1" r="3.6" fill="url(#g_tempe)" fill-opacity="0.85" stroke="#902890" stroke-width="0.8"/>
<circle cx="848.8" cy="369.3" r="3.6" fill="url(#g_tempe)" fill-opacity="0.85" stroke="#902890" stroke-width="0.8"/>
<circle cx="856.1" cy="366.4" r="3.6" fill="url(#g_tempe)" fill-opacity="0.85" stroke="#902890" stroke-width="0.8"/>
<circle cx="863.4" cy="366.7" r="3.6" fill="url(#g_tempe)" fill-opacity="0.85" stroke="#902890" stroke-width="0.8"/>
<circle cx="870.8" cy="368.2" r="3.6" fill="url(#g_tempe)" fill-opacity="0.85" stroke="#902890" stroke-width="0.8"/>
<circle cx="878.1" cy="374.6" r="3.6" fill="url(#g_tempe)" fill-opacity="0.85" stroke="#902890" stroke-width="0.8"/>
<circle cx="885.4" cy="371.7" r="3.6" fill="url(#g_tempe)" fill-opacity="0.85" stroke="#902890" stroke-width="0.8"/>
<circle cx="892.7" cy="377.7" r="3.6" fill="url(#g_tempe)" fill-opacity="0.85" stroke="#902890" stroke-width="0.8"/>
<circle cx="900.1" cy="363.5" r="3.6" fill="url(#g_tempe)" fill-opacity="0.85" stroke="#902890" stroke-width="0.8"/>
<circle cx="907.4" cy="368.2" r="3.6" fill="url(#g_tempe)" fill-opacity="0.85" stroke="#902890" stroke-width="0.8"/>
<circle cx="914.7" cy="367.7" r="3.6" fill="url(#g_tempe)" fill-opacity="0.85" stroke="#902890" stroke-width="0.8"/>
<circle cx="922.0" cy="361.7" r="3.6" fill="url(#g_tempe)" fill-opacity="0.85" stroke="#902890" stroke-width="0.8"/>
<circle cx="929.4" cy="375.2" r="3.6" fill="url(#g_tempe)" fill-opacity="0.85" stroke="#902890" stroke-width="0.8"/>
<circle cx="936.7" cy="385.7" r="3.6" fill="url(#g_tempe)" fill-opacity="0.85" stroke="#902890" stroke-width="0.8"/>
<circle cx="944.0" cy="378.7" r="3.6" fill="url(#g_tempe)" fill-opacity="0.85" stroke="#902890" stroke-width="0.8"/>
<circle cx="951.4" cy="370.2" r="3.6" fill="url(#g_tempe)" fill-opacity="0.85" stroke="#902890" stroke-width="0.8"/>
<circle cx="958.7" cy="407.4" r="3.6" fill="url(#g_tempe)" fill-opacity="0.85" stroke="#902890" stroke-width="0.8"/>
<circle cx="966.0" cy="418.0" r="3.6" fill="url(#g_tempe)" fill-opacity="0.85" stroke="#902890" stroke-width="0.8"/>
<circle cx="973.3" cy="415.0" r="3.6" fill="url(#g_tempe)" fill-opacity="0.85" stroke="#902890" stroke-width="0.8"/>
</svg>
</body></html>
